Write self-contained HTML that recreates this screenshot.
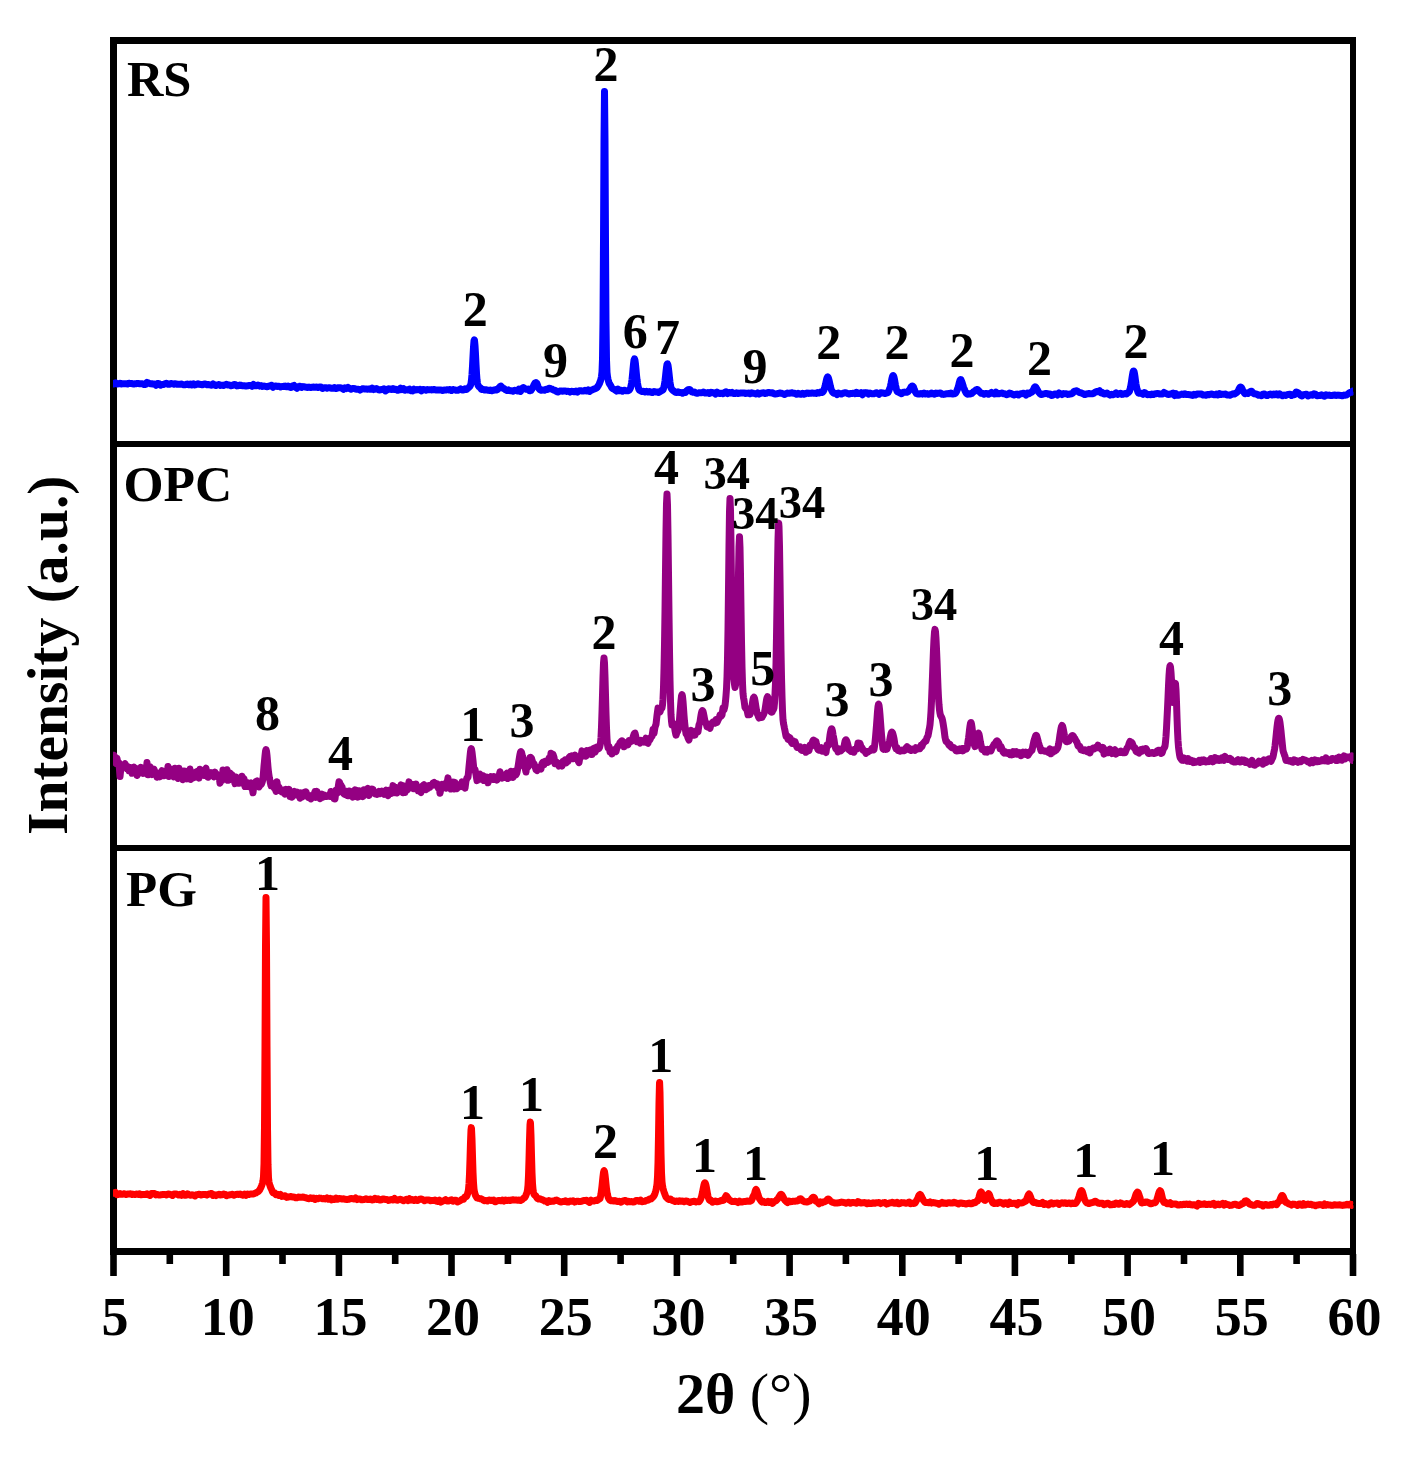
<!DOCTYPE html>
<html><head><meta charset="utf-8"><title>XRD patterns</title><style>html,body{margin:0;padding:0;background:#fff;overflow:hidden;}svg{display:block;}</style></head><body>
<svg width="1404" height="1462" viewBox="0 0 1404 1462">
<rect x="0" y="0" width="1404" height="1462" fill="#fff"/>
<g fill="#000">
<rect x="110" y="37" width="1246" height="7"/>
<rect x="110" y="1248" width="1246" height="7"/>
<rect x="110" y="37" width="7" height="1218"/>
<rect x="1350" y="37" width="6" height="1218"/>
<rect x="110" y="441" width="1246" height="6"/>
<rect x="110" y="845" width="1246" height="6"/>
<rect x="110.2" y="1254" width="6.6" height="22"/>
<rect x="166.5" y="1254" width="6.6" height="10"/>
<rect x="222.9" y="1254" width="6.6" height="22"/>
<rect x="279.2" y="1254" width="6.6" height="10"/>
<rect x="335.6" y="1254" width="6.6" height="22"/>
<rect x="391.9" y="1254" width="6.6" height="10"/>
<rect x="448.2" y="1254" width="6.6" height="22"/>
<rect x="504.6" y="1254" width="6.6" height="10"/>
<rect x="560.9" y="1254" width="6.6" height="22"/>
<rect x="617.3" y="1254" width="6.6" height="10"/>
<rect x="673.6" y="1254" width="6.6" height="22"/>
<rect x="729.9" y="1254" width="6.6" height="10"/>
<rect x="786.3" y="1254" width="6.6" height="22"/>
<rect x="842.6" y="1254" width="6.6" height="10"/>
<rect x="899.0" y="1254" width="6.6" height="22"/>
<rect x="955.3" y="1254" width="6.6" height="10"/>
<rect x="1011.6" y="1254" width="6.6" height="22"/>
<rect x="1068.0" y="1254" width="6.6" height="10"/>
<rect x="1124.3" y="1254" width="6.6" height="22"/>
<rect x="1180.7" y="1254" width="6.6" height="10"/>
<rect x="1237.0" y="1254" width="6.6" height="22"/>
<rect x="1293.3" y="1254" width="6.6" height="10"/>
<rect x="1349.7" y="1254" width="6.6" height="22"/>
</g>
<defs><clipPath id="cp"><rect x="113" y="0" width="1240.5" height="1462"/></clipPath></defs>
<g clip-path="url(#cp)">
<polyline points="113.0,383.9 113.5,383.9 114.0,383.7 114.5,383.4 115.0,383.1 115.5,382.8 116.0,383.2 116.5,383.6 117.0,384.0 117.5,384.0 118.0,383.9 118.5,383.8 119.0,383.6 119.5,383.5 120.0,383.3 120.5,383.5 121.0,383.7 121.5,383.9 122.0,383.9 122.5,383.8 123.0,383.8 123.5,383.8 124.0,383.8 124.5,383.8 125.0,383.7 125.5,383.7 126.0,383.7 126.5,383.8 127.0,383.9 127.5,384.0 128.0,383.7 128.5,383.5 129.0,383.3 129.5,383.4 130.0,383.5 130.5,383.6 131.0,383.6 131.5,383.5 132.0,383.5 132.5,383.7 133.0,383.9 133.5,384.1 134.0,384.0 134.5,383.9 135.0,383.8 135.5,383.7 136.0,383.7 136.5,383.6 137.0,383.5 137.5,383.4 138.0,383.4 138.5,383.5 139.0,383.6 139.5,383.7 140.0,383.7 140.5,383.8 141.0,383.8 141.5,383.8 142.0,383.7 142.5,383.7 143.0,384.0 143.5,384.3 144.0,384.6 144.5,384.5 145.0,384.5 145.5,384.4 146.0,383.7 146.5,383.1 147.0,382.4 147.5,382.6 148.0,382.7 148.5,382.9 149.0,383.2 149.5,383.5 150.0,383.8 150.5,383.8 151.0,383.7 151.5,383.7 152.0,383.8 152.5,384.0 153.0,384.1 153.5,384.1 154.0,384.1 154.5,384.1 155.0,384.4 155.5,384.8 156.0,385.2 156.5,384.6 157.0,384.0 157.5,383.4 158.0,383.5 158.5,383.7 159.0,383.8 159.5,384.3 160.0,384.7 160.5,385.2 161.0,384.9 161.5,384.7 162.0,384.4 162.5,384.4 163.0,384.4 163.5,384.4 164.0,384.2 164.5,384.0 165.0,383.8 165.5,383.6 166.0,383.4 166.5,383.2 167.0,383.5 167.5,383.9 168.0,384.2 168.5,384.2 169.0,384.2 169.5,384.2 170.0,384.0 170.5,383.7 171.0,383.5 171.5,383.6 172.0,383.7 172.5,383.8 173.0,383.9 173.5,384.0 174.0,384.2 174.5,384.0 175.0,383.8 175.5,383.7 176.0,383.9 176.5,384.0 177.0,384.2 177.5,384.2 178.0,384.3 178.5,384.3 179.0,384.3 179.5,384.3 180.0,384.3 180.5,384.2 181.0,384.1 181.5,384.0 182.0,384.2 182.5,384.4 183.0,384.6 183.5,384.7 184.0,384.7 184.5,384.8 185.0,384.7 185.5,384.6 186.0,384.5 186.5,384.3 187.0,384.1 187.5,383.9 188.0,384.2 188.5,384.5 189.0,384.8 189.5,384.6 190.0,384.3 190.5,384.1 191.0,384.4 191.5,384.6 192.0,384.9 192.5,384.5 193.0,384.2 193.5,383.8 194.0,384.2 194.5,384.6 195.0,384.9 195.5,384.8 196.0,384.6 196.5,384.4 197.0,384.2 197.5,384.0 198.0,383.8 198.5,384.0 199.0,384.1 199.5,384.3 200.0,384.4 200.5,384.5 201.0,384.5 201.5,384.6 202.0,384.7 202.5,384.7 203.0,384.5 203.5,384.3 204.0,384.0 204.5,384.0 205.0,384.0 205.5,384.0 206.0,384.3 206.5,384.5 207.0,384.8 207.5,384.7 208.0,384.5 208.5,384.4 209.0,384.6 209.5,384.7 210.0,384.9 210.5,385.0 211.0,385.1 211.5,385.2 212.0,384.8 212.5,384.3 213.0,383.9 213.5,384.3 214.0,384.6 214.5,385.0 215.0,385.2 215.5,385.4 216.0,385.5 216.5,385.3 217.0,385.0 217.5,384.7 218.0,384.7 218.5,384.6 219.0,384.5 219.5,384.8 220.0,385.1 220.5,385.4 221.0,385.3 221.5,385.2 222.0,385.2 222.5,385.3 223.0,385.4 223.5,385.5 224.0,385.3 224.5,385.1 225.0,384.9 225.5,384.7 226.0,384.5 226.5,384.3 227.0,384.6 227.5,384.8 228.0,385.1 228.5,385.0 229.0,385.0 229.5,384.9 230.0,385.2 230.5,385.4 231.0,385.7 231.5,385.6 232.0,385.5 232.5,385.4 233.0,385.0 233.5,384.7 234.0,384.4 234.5,384.5 235.0,384.6 235.5,384.7 236.0,385.1 236.5,385.5 237.0,385.9 237.5,385.8 238.0,385.8 238.5,385.8 239.0,385.5 239.5,385.3 240.0,385.1 240.5,385.2 241.0,385.3 241.5,385.5 242.0,385.6 242.5,385.7 243.0,385.8 243.5,385.8 244.0,385.8 244.5,385.8 245.0,385.9 245.5,386.0 246.0,386.1 246.5,386.0 247.0,385.9 247.5,385.8 248.0,385.7 248.5,385.6 249.0,385.6 249.5,385.6 250.0,385.6 250.5,385.5 251.0,385.8 251.5,386.0 252.0,386.3 252.5,385.7 253.0,385.1 253.5,384.5 254.0,384.9 254.5,385.3 255.0,385.7 255.5,385.8 256.0,385.8 256.5,385.8 257.0,385.6 257.5,385.3 258.0,385.1 258.5,385.4 259.0,385.7 259.5,386.1 260.0,385.9 260.5,385.7 261.0,385.6 261.5,385.9 262.0,386.1 262.5,386.4 263.0,386.3 263.5,386.1 264.0,385.9 264.5,386.1 265.0,386.2 265.5,386.4 266.0,386.5 266.5,386.6 267.0,386.7 267.5,386.6 268.0,386.5 268.5,386.3 269.0,386.1 269.5,385.9 270.0,385.7 270.5,385.6 271.0,385.4 271.5,385.3 272.0,386.0 272.5,386.6 273.0,387.2 273.5,386.8 274.0,386.5 274.5,386.2 275.0,386.1 275.5,386.0 276.0,385.9 276.5,386.1 277.0,386.2 277.5,386.4 278.0,386.3 278.5,386.3 279.0,386.2 279.5,386.4 280.0,386.7 280.5,386.9 281.0,386.7 281.5,386.6 282.0,386.4 282.5,386.4 283.0,386.5 283.5,386.5 284.0,386.3 284.5,386.2 285.0,386.1 285.5,386.3 286.0,386.6 286.5,386.8 287.0,386.5 287.5,386.3 288.0,386.0 288.5,386.4 289.0,386.7 289.5,387.0 290.0,387.2 290.5,387.4 291.0,387.5 291.5,387.0 292.0,386.4 292.5,385.9 293.0,385.7 293.5,385.6 294.0,385.4 294.5,386.0 295.0,386.6 295.5,387.2 296.0,387.6 296.5,387.9 297.0,388.3 297.5,387.7 298.0,387.0 298.5,386.4 299.0,386.4 299.5,386.3 300.0,386.3 300.5,386.7 301.0,387.0 301.5,387.4 302.0,387.1 302.5,386.9 303.0,386.6 303.5,386.7 304.0,386.8 304.5,386.9 305.0,386.9 305.5,387.0 306.0,387.0 306.5,387.2 307.0,387.4 307.5,387.5 308.0,387.4 308.5,387.2 309.0,387.1 309.5,387.2 310.0,387.4 310.5,387.5 311.0,387.4 311.5,387.4 312.0,387.3 312.5,387.2 313.0,387.1 313.5,387.0 314.0,387.1 314.5,387.2 315.0,387.3 315.5,387.2 316.0,387.1 316.5,387.0 317.0,387.2 317.5,387.4 318.0,387.6 318.5,387.4 319.0,387.2 319.5,387.0 320.0,387.0 320.5,387.1 321.0,387.1 321.5,387.6 322.0,388.1 322.5,388.5 323.0,388.3 323.5,388.0 324.0,387.8 324.5,387.8 325.0,387.8 325.5,387.8 326.0,387.9 326.5,388.1 327.0,388.2 327.5,388.0 328.0,387.9 328.5,387.7 329.0,387.8 329.5,387.8 330.0,387.9 330.5,388.0 331.0,388.1 331.5,388.3 332.0,388.3 332.5,388.3 333.0,388.2 333.5,388.0 334.0,387.7 334.5,387.5 335.0,387.9 335.5,388.3 336.0,388.6 336.5,388.4 337.0,388.2 337.5,387.9 338.0,387.8 338.5,387.8 339.0,387.7 339.5,387.8 340.0,387.8 340.5,387.8 341.0,388.0 341.5,388.1 342.0,388.2 342.5,388.6 343.0,388.9 343.5,389.3 344.0,388.8 344.5,388.3 345.0,387.8 345.5,388.1 346.0,388.4 346.5,388.6 347.0,388.2 347.5,387.8 348.0,387.4 348.5,387.8 349.0,388.2 349.5,388.6 350.0,388.8 350.5,389.0 351.0,389.2 351.5,389.0 352.0,388.8 352.5,388.6 353.0,388.6 353.5,388.5 354.0,388.4 354.5,388.6 355.0,388.8 355.5,389.0 356.0,389.1 356.5,389.2 357.0,389.3 357.5,389.3 358.0,389.3 358.5,389.3 359.0,389.6 359.5,389.8 360.0,390.1 360.5,389.8 361.0,389.4 361.5,389.1 362.0,389.0 362.5,388.8 363.0,388.7 363.5,388.8 364.0,388.9 364.5,389.0 365.0,389.0 365.5,389.0 366.0,389.0 366.5,389.1 367.0,389.1 367.5,389.2 368.0,389.1 368.5,389.1 369.0,389.1 369.5,389.1 370.0,389.2 370.5,389.2 371.0,388.9 371.5,388.6 372.0,388.2 372.5,388.7 373.0,389.2 373.5,389.6 374.0,389.4 374.5,389.1 375.0,388.9 375.5,388.8 376.0,388.7 376.5,388.6 377.0,388.9 377.5,389.3 378.0,389.6 378.5,389.7 379.0,389.9 379.5,390.0 380.0,389.9 380.5,389.7 381.0,389.6 381.5,389.5 382.0,389.5 382.5,389.4 383.0,389.2 383.5,389.0 384.0,388.8 384.5,389.5 385.0,390.2 385.5,390.9 386.0,390.6 386.5,390.2 387.0,389.9 387.5,389.5 388.0,389.1 388.5,388.8 389.0,388.9 389.5,388.9 390.0,389.0 390.5,389.2 391.0,389.3 391.5,389.5 392.0,389.2 392.5,388.9 393.0,388.6 393.5,388.9 394.0,389.3 394.5,389.6 395.0,389.5 395.5,389.4 396.0,389.3 396.5,389.6 397.0,389.9 397.5,390.2 398.0,390.2 398.5,390.1 399.0,390.1 399.5,389.4 400.0,388.8 400.5,388.1 401.0,388.6 401.5,389.1 402.0,389.6 402.5,389.3 403.0,389.0 403.5,388.7 404.0,389.2 404.5,389.7 405.0,390.3 405.5,390.1 406.0,389.9 406.5,389.8 407.0,389.8 407.5,389.9 408.0,390.0 408.5,389.7 409.0,389.4 409.5,389.1 410.0,389.7 410.5,390.2 411.0,390.7 411.5,390.8 412.0,390.8 412.5,390.9 413.0,390.3 413.5,389.7 414.0,389.2 414.5,389.5 415.0,389.7 415.5,390.0 416.0,389.8 416.5,389.6 417.0,389.4 417.5,389.6 418.0,389.7 418.5,389.8 419.0,389.6 419.5,389.4 420.0,389.2 420.5,389.7 421.0,390.3 421.5,390.9 422.0,390.4 422.5,389.9 423.0,389.4 423.5,389.5 424.0,389.6 424.5,389.8 425.0,389.9 425.5,390.1 426.0,390.2 426.5,390.0 427.0,389.8 427.5,389.6 428.0,389.7 428.5,389.8 429.0,389.8 429.5,389.8 430.0,389.7 430.5,389.7 431.0,389.8 431.5,389.9 432.0,389.9 432.5,389.8 433.0,389.6 433.5,389.4 434.0,389.5 434.5,389.7 435.0,389.8 435.5,389.9 436.0,389.9 436.5,389.9 437.0,389.9 437.5,389.9 438.0,389.9 438.5,390.0 439.0,390.1 439.5,390.1 440.0,390.1 440.5,390.0 441.0,389.9 441.5,390.1 442.0,390.3 442.5,390.5 443.0,390.3 443.5,390.2 444.0,390.0 444.5,390.0 445.0,390.0 445.5,390.1 446.0,390.0 446.5,389.9 447.0,389.8 447.5,389.8 448.0,389.8 448.5,389.9 449.0,389.7 449.5,389.6 450.0,389.5 450.5,389.8 451.0,390.1 451.5,390.5 452.0,390.1 452.5,389.8 453.0,389.5 453.5,389.6 454.0,389.7 454.5,389.7 455.0,389.9 455.5,390.1 456.0,390.3 456.5,390.3 457.0,390.3 457.5,390.3 458.0,390.2 458.5,390.0 459.0,389.8 459.5,389.5 460.0,389.2 460.5,388.9 461.0,389.3 461.5,389.7 462.0,390.1 462.5,390.0 463.0,390.0 463.5,389.9 464.0,389.5 464.5,389.1 465.0,388.7 465.5,389.0 466.0,389.3 466.5,389.5 467.0,389.1 467.5,388.6 468.0,388.1 468.5,387.7 469.0,387.3 469.5,386.7 470.0,386.2 470.5,385.2 471.0,383.4 471.5,379.8 472.0,374.2 472.5,366.1 473.0,356.4 473.5,347.1 474.0,341.0 474.3,339.9 474.5,340.4 475.0,345.5 475.5,354.2 476.0,364.2 476.5,373.1 477.0,379.7 477.5,383.3 478.0,385.2 478.5,386.1 479.0,386.7 479.5,387.1 480.0,387.4 480.5,388.1 481.0,388.7 481.5,389.4 482.0,389.4 482.5,389.4 483.0,389.3 483.5,389.6 484.0,389.8 484.5,390.0 485.0,390.0 485.5,389.9 486.0,389.8 486.5,389.9 487.0,390.0 487.5,390.1 488.0,390.2 488.5,390.3 489.0,390.4 489.5,390.2 490.0,390.1 490.5,389.9 491.0,390.2 491.5,390.5 492.0,390.8 492.5,390.6 493.0,390.4 493.5,390.1 494.0,390.1 494.5,390.0 495.0,389.8 495.5,389.9 496.0,390.0 496.5,390.0 497.0,389.8 497.5,389.5 498.0,389.1 498.5,388.5 499.0,387.8 499.5,387.1 500.0,386.6 500.5,386.2 500.8,386.1 501.0,386.1 501.5,386.6 502.0,387.3 502.5,388.1 503.0,388.2 503.5,388.4 504.0,388.4 504.5,388.9 505.0,389.4 505.5,389.7 506.0,390.0 506.5,390.3 507.0,390.6 507.5,390.4 508.0,390.2 508.5,389.9 509.0,390.2 509.5,390.5 510.0,390.8 510.5,390.8 511.0,390.8 511.5,390.7 512.0,390.9 512.5,391.1 513.0,391.3 513.5,391.0 514.0,390.6 514.5,390.3 515.0,390.4 515.5,390.4 516.0,390.4 516.5,390.6 517.0,390.7 517.5,390.9 518.0,390.3 518.5,389.7 519.0,389.1 519.5,389.9 520.0,390.7 520.5,391.4 521.0,390.4 521.5,389.4 522.0,388.4 522.5,388.1 523.0,387.8 523.5,387.6 523.8,387.8 524.0,387.9 524.5,388.3 525.0,388.8 525.5,389.0 526.0,389.2 526.5,389.3 527.0,389.3 527.5,389.2 528.0,389.1 528.5,389.7 529.0,390.2 529.5,390.7 530.0,390.7 530.5,390.6 531.0,390.4 531.5,389.7 532.0,388.9 532.5,387.9 533.0,387.0 533.5,385.9 534.0,384.8 534.5,383.9 535.0,383.1 535.5,382.8 535.7,382.7 536.0,382.6 536.5,382.9 537.0,383.6 537.5,385.0 538.0,386.4 538.5,387.7 539.0,388.6 539.5,389.3 540.0,389.8 540.5,390.1 541.0,390.2 541.5,390.2 542.0,390.1 542.5,390.0 543.0,389.9 543.5,390.0 544.0,390.1 544.5,390.2 545.0,389.9 545.5,389.6 546.0,389.3 546.5,389.3 547.0,389.4 547.5,389.4 548.0,389.0 548.5,388.6 549.0,388.2 549.5,388.2 549.7,388.2 550.0,388.3 550.5,388.6 551.0,388.7 551.5,388.9 552.0,389.1 552.5,389.5 553.0,389.8 553.5,390.1 554.0,390.2 554.5,390.2 555.0,390.2 555.5,390.6 556.0,391.0 556.5,391.4 557.0,391.6 557.5,391.9 558.0,392.1 558.5,391.8 559.0,391.4 559.5,391.1 560.0,391.0 560.5,391.0 561.0,390.9 561.5,391.0 562.0,391.1 562.5,391.2 563.0,391.1 563.5,391.1 564.0,391.0 564.5,391.0 565.0,391.0 565.5,390.9 566.0,391.1 566.5,391.2 567.0,391.4 567.5,391.3 568.0,391.2 568.5,391.2 569.0,391.5 569.5,391.8 570.0,392.1 570.5,391.8 571.0,391.6 571.5,391.3 572.0,391.4 572.5,391.4 573.0,391.5 573.5,391.6 574.0,391.7 574.5,391.8 575.0,391.6 575.5,391.4 576.0,391.1 576.5,391.4 577.0,391.7 577.5,392.1 578.0,391.7 578.5,391.3 579.0,390.9 579.5,390.8 580.0,390.8 580.5,390.8 581.0,390.8 581.5,390.9 582.0,391.0 582.5,391.0 583.0,391.0 583.5,391.0 584.0,390.8 584.5,390.5 585.0,390.2 585.5,390.5 586.0,390.7 586.5,390.9 587.0,390.6 587.5,390.2 588.0,389.9 588.5,390.4 589.0,390.9 589.5,391.4 590.0,391.0 590.5,390.7 591.0,390.3 591.5,390.1 592.0,389.9 592.5,389.7 593.0,389.5 593.5,389.3 594.0,389.0 594.5,388.9 595.0,388.8 595.5,388.6 596.0,388.3 596.5,388.0 597.0,387.6 597.5,386.9 598.0,386.1 598.5,385.3 599.0,384.4 599.5,383.4 600.0,382.1 600.5,380.7 601.0,378.9 601.5,376.5 602.0,371.9 602.5,359.0 603.0,321.0 603.5,241.0 604.0,140.2 604.5,91.4 605.0,140.3 605.5,241.3 606.0,321.7 606.5,359.6 607.0,372.3 607.5,376.6 608.0,379.2 608.5,381.3 609.0,382.9 609.5,383.9 610.0,384.6 610.5,385.2 611.0,386.3 611.5,387.2 612.0,388.1 612.5,388.4 613.0,388.7 613.5,388.9 614.0,389.3 614.5,389.6 615.0,389.9 615.5,390.3 616.0,390.6 616.5,391.0 617.0,390.4 617.5,389.8 618.0,389.2 618.5,389.8 619.0,390.3 619.5,390.8 620.0,390.6 620.5,390.4 621.0,390.2 621.5,390.6 622.0,390.9 622.5,391.2 623.0,390.9 623.5,390.6 624.0,390.2 624.5,390.3 625.0,390.5 625.5,390.6 626.0,390.7 626.5,390.7 627.0,390.8 627.5,390.7 628.0,390.7 628.5,390.6 629.0,390.2 629.5,389.7 630.0,389.0 630.5,387.8 631.0,386.0 631.5,383.3 632.0,379.6 632.5,374.8 633.0,369.4 633.5,364.2 634.0,360.3 634.5,358.9 635.0,360.4 635.5,364.3 636.0,369.6 636.5,375.0 637.0,379.6 637.5,383.1 638.0,386.0 638.5,388.1 639.0,389.6 639.5,390.2 640.0,390.6 640.5,390.8 641.0,391.1 641.5,391.3 642.0,391.6 642.5,391.5 643.0,391.4 643.5,391.2 644.0,391.5 644.5,391.8 645.0,392.0 645.5,391.8 646.0,391.5 646.5,391.2 647.0,391.5 647.5,391.8 648.0,392.1 648.5,392.0 649.0,391.8 649.5,391.6 650.0,391.8 650.5,392.1 651.0,392.3 651.5,392.4 652.0,392.4 652.5,392.5 653.0,392.2 653.5,391.9 654.0,391.5 654.5,391.7 655.0,391.8 655.5,391.9 656.0,391.9 656.5,391.9 657.0,391.9 657.5,392.0 658.0,392.2 658.5,392.4 659.0,392.2 659.5,392.0 660.0,391.9 660.5,391.4 661.0,390.9 661.5,390.4 662.0,390.4 662.5,390.2 663.0,389.8 663.5,388.6 664.0,386.8 664.5,384.2 665.0,380.7 665.5,376.4 666.0,371.7 666.5,367.3 667.0,364.4 667.4,363.7 667.5,363.7 668.0,365.3 668.5,368.8 669.0,373.2 669.5,377.9 670.0,382.2 670.5,385.7 671.0,387.7 671.5,388.8 672.0,389.4 672.5,390.0 673.0,390.4 673.5,390.7 674.0,391.2 674.5,391.6 675.0,392.0 675.5,392.2 676.0,392.4 676.5,392.6 677.0,392.3 677.5,392.1 678.0,391.8 678.5,392.1 679.0,392.3 679.5,392.6 680.0,392.5 680.5,392.5 681.0,392.4 681.5,392.7 682.0,392.9 682.5,393.2 683.0,392.9 683.5,392.6 684.0,392.3 684.5,392.4 685.0,392.4 685.5,392.4 686.0,391.8 686.5,391.1 687.0,390.4 687.5,390.1 688.0,389.8 688.5,389.6 689.0,389.4 689.3,389.4 689.5,389.5 690.0,389.7 690.5,390.2 691.0,390.9 691.5,391.5 692.0,391.9 692.5,392.1 693.0,392.3 693.5,392.3 694.0,392.2 694.5,392.1 695.0,392.5 695.5,392.8 696.0,393.1 696.5,393.1 697.0,393.2 697.5,393.2 698.0,393.1 698.5,392.9 699.0,392.8 699.5,392.7 700.0,392.7 700.5,392.7 701.0,392.7 701.5,392.8 702.0,392.8 702.5,392.5 703.0,392.2 703.5,392.0 704.0,392.3 704.5,392.7 705.0,393.0 705.5,393.0 706.0,393.0 706.5,393.1 707.0,392.9 707.5,392.7 708.0,392.5 708.5,392.8 709.0,393.1 709.5,393.4 710.0,393.0 710.5,392.6 711.0,392.2 711.5,392.4 712.0,392.5 712.5,392.7 713.0,392.7 713.5,392.7 714.0,392.7 714.5,393.2 715.0,393.6 715.5,394.1 716.0,393.4 716.5,392.8 717.0,392.1 717.5,392.5 718.0,392.9 718.5,393.3 719.0,393.4 719.5,393.4 720.0,393.5 720.5,393.4 721.0,393.3 721.5,393.2 722.0,393.4 722.5,393.5 723.0,393.7 723.5,393.3 724.0,392.9 724.5,392.5 725.0,392.2 725.5,392.0 726.0,391.8 726.5,392.3 727.0,392.9 727.5,393.5 728.0,393.1 728.5,392.7 729.0,392.4 729.5,392.5 730.0,392.7 730.5,392.9 731.0,392.7 731.5,392.6 732.0,392.4 732.5,392.8 733.0,393.2 733.5,393.6 734.0,393.6 734.5,393.6 735.0,393.5 735.5,393.3 736.0,393.0 736.5,392.7 737.0,393.0 737.5,393.3 738.0,393.6 738.5,393.4 739.0,393.3 739.5,393.2 740.0,393.1 740.5,393.1 741.0,393.0 741.5,393.1 742.0,393.1 742.5,393.1 743.0,393.1 743.5,393.0 744.0,393.0 744.5,393.1 745.0,393.3 745.5,393.5 746.0,393.4 746.5,393.3 747.0,393.3 747.5,393.2 748.0,393.1 748.5,392.9 749.0,393.2 749.5,393.4 750.0,393.7 750.5,393.4 751.0,393.1 751.5,392.8 752.0,393.0 752.5,393.1 753.0,393.3 753.5,393.3 754.0,393.4 754.5,393.4 755.0,393.6 755.5,393.8 756.0,394.0 756.5,393.6 757.0,393.2 757.5,392.9 758.0,393.3 758.5,393.7 759.0,394.1 759.5,393.8 760.0,393.5 760.5,393.3 761.0,393.2 761.5,393.1 762.0,393.1 762.5,393.0 763.0,392.9 763.5,392.8 764.0,393.0 764.5,393.3 765.0,393.5 765.5,393.4 766.0,393.3 766.5,393.2 767.0,393.0 767.5,392.8 768.0,392.6 768.5,392.6 769.0,392.6 769.5,392.6 770.0,392.7 770.5,392.8 771.0,392.9 771.5,392.9 772.0,392.9 772.5,392.8 773.0,393.2 773.5,393.5 774.0,393.8 774.5,393.9 775.0,393.9 775.5,394.0 776.0,393.9 776.5,393.8 777.0,393.7 777.5,393.6 778.0,393.5 778.5,393.4 779.0,393.3 779.5,393.1 780.0,393.0 780.5,393.1 781.0,393.2 781.5,393.3 782.0,393.4 782.5,393.6 783.0,393.7 783.5,394.0 784.0,394.2 784.5,394.4 785.0,394.2 785.5,394.0 786.0,393.7 786.5,393.5 787.0,393.3 787.5,393.1 788.0,393.2 788.5,393.2 789.0,393.3 789.5,393.2 790.0,393.1 790.5,393.0 791.0,392.9 791.5,392.9 792.0,392.8 792.5,392.9 793.0,393.1 793.5,393.2 794.0,393.2 794.5,393.3 795.0,393.4 795.5,393.7 796.0,394.0 796.5,394.3 797.0,394.0 797.5,393.6 798.0,393.3 798.5,393.5 799.0,393.8 799.5,394.0 800.0,394.1 800.5,394.2 801.0,394.2 801.5,393.9 802.0,393.6 802.5,393.3 803.0,393.6 803.5,393.9 804.0,394.2 804.5,394.0 805.0,393.8 805.5,393.7 806.0,393.5 806.5,393.2 807.0,393.0 807.5,393.2 808.0,393.3 808.5,393.4 809.0,393.4 809.5,393.3 810.0,393.3 810.5,393.2 811.0,393.2 811.5,393.1 812.0,393.1 812.5,393.1 813.0,393.1 813.5,393.2 814.0,393.2 814.5,393.3 815.0,393.3 815.5,393.3 816.0,393.4 816.5,393.1 817.0,392.9 817.5,392.6 818.0,392.7 818.5,392.9 819.0,393.0 819.5,392.7 820.0,392.4 820.5,392.0 821.0,392.2 821.5,392.4 822.0,392.5 822.5,392.3 823.0,391.8 823.5,391.1 824.0,390.0 824.5,388.4 825.0,386.5 825.5,384.4 826.0,382.0 826.5,379.8 827.0,378.0 827.5,377.0 827.7,376.9 828.0,377.1 828.5,378.3 829.0,380.1 829.5,382.3 830.0,384.6 830.5,386.8 831.0,388.6 831.5,390.0 832.0,391.1 832.5,392.0 833.0,392.5 833.5,392.9 834.0,393.2 834.5,393.2 835.0,393.2 835.5,393.2 836.0,393.6 836.5,394.0 837.0,394.5 837.5,394.0 838.0,393.6 838.5,393.1 839.0,393.4 839.5,393.6 840.0,393.8 840.5,393.9 841.0,393.9 841.5,394.0 842.0,393.7 842.5,393.5 843.0,393.2 843.5,393.1 844.0,393.0 844.5,392.9 845.0,392.8 845.5,392.8 846.0,392.7 846.5,393.0 847.0,393.2 847.5,393.5 848.0,393.6 848.5,393.8 849.0,394.0 849.5,393.9 850.0,393.7 850.5,393.6 851.0,393.5 851.5,393.5 852.0,393.5 852.5,393.4 853.0,393.3 853.5,393.2 854.0,393.4 854.5,393.6 855.0,393.7 855.5,393.3 856.0,392.8 856.5,392.3 857.0,392.7 857.5,393.1 858.0,393.6 858.5,393.5 859.0,393.5 859.5,393.5 860.0,393.2 860.5,393.0 861.0,392.7 861.5,393.4 862.0,394.0 862.5,394.7 863.0,394.0 863.5,393.4 864.0,392.7 864.5,392.8 865.0,392.8 865.5,392.9 866.0,392.9 866.5,392.8 867.0,392.8 867.5,393.2 868.0,393.7 868.5,394.1 869.0,393.7 869.5,393.3 870.0,393.0 870.5,393.3 871.0,393.5 871.5,393.8 872.0,393.8 872.5,393.8 873.0,393.8 873.5,393.7 874.0,393.7 874.5,393.6 875.0,393.3 875.5,393.0 876.0,392.7 876.5,392.8 877.0,393.0 877.5,393.1 878.0,393.5 878.5,393.9 879.0,394.3 879.5,393.8 880.0,393.2 880.5,392.7 881.0,392.7 881.5,392.8 882.0,392.9 882.5,393.0 883.0,393.0 883.5,393.1 884.0,393.3 884.5,393.4 885.0,393.5 885.5,393.4 886.0,393.2 886.5,393.0 887.0,392.9 887.5,392.8 888.0,392.5 888.5,391.6 889.0,390.5 889.5,389.0 890.0,387.7 890.5,385.8 891.0,383.5 891.5,380.8 892.0,378.3 892.5,376.4 893.0,375.5 893.1,375.5 893.5,375.9 894.0,377.3 894.5,379.6 895.0,382.3 895.5,385.2 896.0,387.6 896.5,389.7 897.0,391.3 897.5,391.8 898.0,392.0 898.5,391.9 899.0,392.3 899.5,392.7 900.0,392.9 900.5,393.2 901.0,393.5 901.5,393.8 902.0,393.4 902.5,392.9 903.0,392.4 903.5,392.3 904.0,392.2 904.5,392.1 905.0,392.2 905.5,392.3 906.0,392.3 906.5,392.3 907.0,392.3 907.5,392.1 908.0,391.7 908.5,391.1 909.0,390.4 909.5,389.7 910.0,388.9 910.5,388.1 911.0,387.1 911.5,386.4 912.0,386.1 912.5,386.1 913.0,386.5 913.5,387.1 914.0,388.5 914.5,389.8 915.0,391.1 915.5,392.1 916.0,392.9 916.5,393.6 917.0,393.8 917.5,393.9 918.0,393.9 918.5,393.9 919.0,394.0 919.5,394.0 920.0,393.8 920.5,393.7 921.0,393.5 921.5,393.7 922.0,393.9 922.5,394.1 923.0,393.7 923.5,393.4 924.0,393.1 924.5,393.4 925.0,393.7 925.5,394.0 926.0,393.9 926.5,393.7 927.0,393.6 927.5,393.8 928.0,394.0 928.5,394.3 929.0,394.1 929.5,394.0 930.0,393.9 930.5,393.6 931.0,393.3 931.5,393.1 932.0,393.3 932.5,393.5 933.0,393.7 933.5,393.9 934.0,394.1 934.5,394.3 935.0,393.9 935.5,393.5 936.0,393.1 936.5,393.2 937.0,393.3 937.5,393.4 938.0,393.3 938.5,393.3 939.0,393.3 939.5,393.1 940.0,393.0 940.5,392.9 941.0,393.3 941.5,393.8 942.0,394.2 942.5,394.3 943.0,394.3 943.5,394.4 944.0,394.3 944.5,394.2 945.0,394.1 945.5,394.0 946.0,393.9 946.5,393.8 947.0,393.7 947.5,393.7 948.0,393.6 948.5,393.6 949.0,393.7 949.5,393.7 950.0,393.5 950.5,393.3 951.0,393.1 951.5,393.4 952.0,393.7 952.5,393.9 953.0,393.9 953.5,393.9 954.0,393.8 954.5,393.7 955.0,393.5 955.5,393.2 956.0,392.5 956.5,391.6 957.0,390.4 957.5,389.2 958.0,387.8 958.5,386.0 959.0,383.9 959.5,381.9 960.0,380.2 960.5,379.5 960.8,379.6 961.0,379.8 961.5,381.0 962.0,382.3 962.5,383.9 963.0,385.7 963.5,387.2 964.0,388.5 964.5,389.4 965.0,390.8 965.5,391.9 966.0,392.8 966.5,393.4 967.0,393.8 967.5,394.2 968.0,394.1 968.5,394.0 969.0,393.8 969.5,393.8 970.0,393.9 970.5,393.9 971.0,393.8 971.5,393.6 972.0,393.4 972.5,392.9 973.0,392.4 973.5,391.8 974.0,391.5 974.5,391.2 975.0,390.7 975.5,390.3 976.0,389.9 976.5,389.6 977.0,389.5 977.4,389.6 977.5,389.6 978.0,390.0 978.5,390.5 979.0,391.0 979.5,391.7 980.0,392.2 980.5,392.8 981.0,393.2 981.5,393.3 982.0,393.3 982.5,393.3 983.0,393.6 983.5,394.0 984.0,394.2 984.5,394.0 985.0,393.8 985.5,393.6 986.0,393.6 986.5,393.5 987.0,393.4 987.5,393.7 988.0,394.0 988.5,394.3 989.0,394.0 989.5,393.7 990.0,393.4 990.5,393.0 991.0,392.7 991.5,392.4 992.0,392.7 992.5,393.0 993.0,393.3 993.5,393.5 994.0,393.7 994.5,394.0 995.0,393.4 995.5,392.8 996.0,392.2 996.5,392.7 997.0,393.2 997.5,393.7 998.0,393.7 998.5,393.7 999.0,393.8 999.5,393.6 1000.0,393.4 1000.5,393.2 1001.0,393.2 1001.5,393.1 1002.0,393.1 1002.5,393.3 1003.0,393.5 1003.5,393.7 1004.0,393.7 1004.5,393.7 1005.0,393.7 1005.5,394.0 1006.0,394.3 1006.5,394.7 1007.0,394.5 1007.5,394.3 1008.0,394.2 1008.5,393.8 1009.0,393.5 1009.5,393.1 1010.0,393.2 1010.5,393.4 1011.0,393.5 1011.5,393.8 1012.0,394.1 1012.5,394.4 1013.0,394.6 1013.5,394.8 1014.0,395.0 1014.5,394.7 1015.0,394.5 1015.5,394.2 1016.0,394.2 1016.5,394.2 1017.0,394.1 1017.5,394.4 1018.0,394.7 1018.5,395.0 1019.0,394.6 1019.5,394.3 1020.0,394.0 1020.5,393.9 1021.0,393.8 1021.5,393.8 1022.0,393.6 1022.5,393.4 1023.0,393.2 1023.5,393.3 1024.0,393.5 1024.5,393.6 1025.0,394.1 1025.5,394.6 1026.0,395.1 1026.5,394.4 1027.0,393.7 1027.5,393.1 1028.0,393.3 1028.5,393.5 1029.0,393.7 1029.5,393.3 1030.0,392.9 1030.5,392.4 1031.0,392.4 1031.5,392.2 1032.0,391.9 1032.5,391.2 1033.0,390.4 1033.5,389.6 1034.0,388.4 1034.5,387.4 1035.0,386.7 1035.3,386.8 1035.5,386.9 1036.0,387.5 1036.5,388.4 1037.0,389.3 1037.5,390.3 1038.0,391.2 1038.5,392.0 1039.0,392.6 1039.5,393.1 1040.0,393.7 1040.5,394.1 1041.0,394.5 1041.5,394.5 1042.0,394.4 1042.5,394.3 1043.0,394.1 1043.5,393.9 1044.0,393.7 1044.5,393.7 1045.0,393.6 1045.5,393.6 1046.0,393.6 1046.5,393.6 1047.0,393.5 1047.5,393.8 1048.0,394.0 1048.5,394.3 1049.0,394.1 1049.5,394.0 1050.0,393.9 1050.5,394.4 1051.0,395.0 1051.5,395.5 1052.0,395.4 1052.5,395.2 1053.0,395.1 1053.5,394.7 1054.0,394.3 1054.5,393.9 1055.0,393.9 1055.5,393.9 1056.0,393.9 1056.5,394.3 1057.0,394.6 1057.5,395.0 1058.0,394.4 1058.5,393.7 1059.0,393.0 1059.5,393.3 1060.0,393.6 1060.5,393.8 1061.0,394.1 1061.5,394.3 1062.0,394.6 1062.5,394.3 1063.0,393.9 1063.5,393.6 1064.0,393.7 1064.5,393.7 1065.0,393.8 1065.5,393.8 1066.0,393.8 1066.5,393.9 1067.0,394.0 1067.5,394.2 1068.0,394.4 1068.5,394.3 1069.0,394.2 1069.5,394.0 1070.0,394.0 1070.5,394.0 1071.0,393.9 1071.5,393.7 1072.0,393.5 1072.5,393.2 1073.0,392.7 1073.5,392.1 1074.0,391.5 1074.5,391.2 1075.0,391.1 1075.5,391.1 1075.6,391.0 1076.0,390.8 1076.5,390.8 1077.0,390.9 1077.5,391.2 1078.0,391.6 1078.5,391.9 1079.0,392.2 1079.5,392.5 1080.0,392.6 1080.5,392.8 1081.0,392.9 1081.5,393.0 1082.0,393.3 1082.5,393.5 1083.0,393.7 1083.5,394.0 1084.0,394.3 1084.5,394.6 1085.0,394.5 1085.5,394.3 1086.0,394.2 1086.5,394.0 1087.0,393.9 1087.5,393.8 1088.0,393.7 1088.5,393.6 1089.0,393.5 1089.5,393.6 1090.0,393.7 1090.5,393.8 1091.0,393.8 1091.5,393.8 1092.0,393.8 1092.5,393.7 1093.0,393.6 1093.5,393.4 1094.0,393.1 1094.5,392.7 1095.0,392.3 1095.5,392.1 1096.0,391.9 1096.5,391.6 1097.0,391.6 1097.5,391.6 1098.0,391.8 1098.5,391.3 1099.0,390.9 1099.5,390.7 1100.0,391.5 1100.5,392.2 1101.0,392.9 1101.5,392.9 1102.0,392.8 1102.5,392.6 1103.0,393.1 1103.5,393.7 1104.0,394.1 1104.5,394.0 1105.0,393.8 1105.5,393.7 1106.0,393.5 1106.5,393.2 1107.0,393.0 1107.5,393.4 1108.0,393.8 1108.5,394.2 1109.0,394.5 1109.5,394.8 1110.0,395.1 1110.5,394.8 1111.0,394.5 1111.5,394.2 1112.0,394.4 1112.5,394.6 1113.0,394.8 1113.5,394.6 1114.0,394.3 1114.5,394.1 1115.0,393.7 1115.5,393.3 1116.0,392.9 1116.5,393.4 1117.0,393.9 1117.5,394.4 1118.0,394.2 1118.5,394.0 1119.0,393.8 1119.5,393.6 1120.0,393.4 1120.5,393.2 1121.0,393.6 1121.5,394.0 1122.0,394.4 1122.5,394.3 1123.0,394.2 1123.5,394.0 1124.0,393.9 1124.5,393.7 1125.0,393.5 1125.5,393.7 1126.0,393.8 1126.5,394.0 1127.0,393.5 1127.5,393.1 1128.0,392.5 1128.5,392.4 1129.0,392.0 1129.5,391.3 1130.0,389.6 1130.5,387.4 1131.0,384.6 1131.5,381.5 1132.0,378.1 1132.5,374.8 1133.0,372.1 1133.5,370.9 1133.6,370.9 1134.0,371.4 1134.5,373.5 1135.0,376.8 1135.5,380.6 1136.0,384.0 1136.5,386.8 1137.0,389.0 1137.5,390.8 1138.0,392.2 1138.5,393.1 1139.0,393.2 1139.5,393.1 1140.0,392.9 1140.5,393.1 1141.0,393.3 1141.5,393.4 1142.0,393.8 1142.5,394.0 1143.0,394.3 1143.5,393.7 1144.0,393.1 1144.5,392.5 1145.0,392.8 1145.5,393.2 1146.0,393.5 1146.5,393.9 1147.0,394.3 1147.5,394.7 1148.0,394.6 1148.5,394.5 1149.0,394.4 1149.5,394.5 1150.0,394.6 1150.5,394.7 1151.0,394.5 1151.5,394.3 1152.0,394.1 1152.5,394.2 1153.0,394.4 1153.5,394.6 1154.0,394.3 1154.5,394.1 1155.0,393.9 1155.5,393.8 1156.0,393.7 1156.5,393.5 1157.0,393.5 1157.5,393.4 1158.0,393.4 1158.5,393.6 1159.0,393.8 1159.5,394.0 1160.0,394.0 1160.5,394.0 1161.0,394.0 1161.5,394.0 1162.0,394.0 1162.5,394.0 1163.0,393.5 1163.5,392.9 1164.0,392.4 1164.5,392.7 1165.0,393.0 1165.5,393.3 1166.0,393.5 1166.5,393.8 1167.0,394.1 1167.5,394.2 1168.0,394.4 1168.5,394.5 1169.0,394.4 1169.5,394.2 1170.0,394.1 1170.5,394.0 1171.0,394.0 1171.5,393.9 1172.0,393.6 1172.5,393.4 1173.0,393.1 1173.5,393.9 1174.0,394.7 1174.5,395.5 1175.0,394.9 1175.5,394.4 1176.0,393.8 1176.5,394.3 1177.0,394.8 1177.5,395.3 1178.0,395.3 1178.5,395.3 1179.0,395.3 1179.5,395.0 1180.0,394.8 1180.5,394.6 1181.0,394.4 1181.5,394.3 1182.0,394.1 1182.5,394.2 1183.0,394.4 1183.5,394.5 1184.0,394.3 1184.5,394.0 1185.0,393.8 1185.5,394.1 1186.0,394.3 1186.5,394.6 1187.0,394.5 1187.5,394.5 1188.0,394.4 1188.5,394.5 1189.0,394.6 1189.5,394.7 1190.0,394.8 1190.5,394.9 1191.0,395.0 1191.5,395.1 1192.0,395.3 1192.5,395.4 1193.0,395.0 1193.5,394.6 1194.0,394.2 1194.5,394.5 1195.0,394.8 1195.5,395.0 1196.0,394.7 1196.5,394.4 1197.0,394.0 1197.5,394.0 1198.0,394.0 1198.5,394.0 1199.0,394.0 1199.5,394.1 1200.0,394.1 1200.5,394.1 1201.0,394.0 1201.5,393.9 1202.0,394.3 1202.5,394.7 1203.0,395.0 1203.5,395.0 1204.0,395.0 1204.5,395.0 1205.0,395.1 1205.5,395.1 1206.0,395.2 1206.5,395.0 1207.0,394.7 1207.5,394.5 1208.0,394.6 1208.5,394.6 1209.0,394.7 1209.5,394.5 1210.0,394.4 1210.5,394.2 1211.0,394.1 1211.5,394.0 1212.0,393.9 1212.5,394.2 1213.0,394.5 1213.5,394.8 1214.0,394.8 1214.5,394.7 1215.0,394.7 1215.5,394.5 1216.0,394.2 1216.5,394.0 1217.0,394.3 1217.5,394.6 1218.0,394.9 1218.5,394.5 1219.0,394.1 1219.5,393.6 1220.0,393.9 1220.5,394.2 1221.0,394.5 1221.5,394.4 1222.0,394.3 1222.5,394.2 1223.0,394.3 1223.5,394.3 1224.0,394.3 1224.5,394.2 1225.0,394.1 1225.5,394.0 1226.0,394.4 1226.5,394.7 1227.0,395.1 1227.5,395.0 1228.0,395.0 1228.5,394.9 1229.0,395.0 1229.5,395.1 1230.0,395.2 1230.5,395.0 1231.0,394.8 1231.5,394.6 1232.0,394.3 1232.5,394.0 1233.0,393.7 1233.5,393.9 1234.0,394.0 1234.5,394.0 1235.0,393.7 1235.5,393.4 1236.0,392.9 1236.5,392.7 1237.0,392.3 1237.5,391.8 1238.0,391.0 1238.5,390.1 1239.0,389.1 1239.5,388.1 1240.0,387.3 1240.4,387.0 1240.5,387.0 1241.0,387.2 1241.5,387.7 1242.0,388.5 1242.5,389.7 1243.0,390.7 1243.5,391.7 1244.0,392.5 1244.5,393.2 1245.0,393.7 1245.5,393.6 1246.0,393.4 1246.5,393.1 1247.0,393.3 1247.5,393.4 1248.0,393.4 1248.5,393.1 1249.0,392.7 1249.5,392.3 1250.0,391.8 1250.5,391.4 1251.0,391.2 1251.5,391.3 1252.0,391.6 1252.5,392.1 1253.0,392.6 1253.5,393.2 1254.0,393.7 1254.5,393.8 1255.0,393.9 1255.5,393.9 1256.0,394.0 1256.5,394.1 1257.0,394.2 1257.5,394.5 1258.0,394.9 1258.5,395.2 1259.0,395.1 1259.5,395.0 1260.0,394.9 1260.5,395.2 1261.0,395.5 1261.5,395.7 1262.0,395.3 1262.5,394.8 1263.0,394.3 1263.5,394.2 1264.0,394.0 1264.5,393.9 1265.0,394.4 1265.5,394.9 1266.0,395.4 1266.5,395.4 1267.0,395.4 1267.5,395.4 1268.0,395.1 1268.5,394.8 1269.0,394.5 1269.5,394.4 1270.0,394.3 1270.5,394.1 1271.0,394.4 1271.5,394.7 1272.0,394.9 1272.5,394.6 1273.0,394.3 1273.5,394.0 1274.0,394.3 1274.5,394.5 1275.0,394.8 1275.5,394.4 1276.0,394.1 1276.5,393.8 1277.0,394.1 1277.5,394.5 1278.0,394.9 1278.5,394.5 1279.0,394.2 1279.5,393.8 1280.0,394.2 1280.5,394.5 1281.0,394.9 1281.5,395.2 1282.0,395.5 1282.5,395.8 1283.0,395.5 1283.5,395.2 1284.0,394.9 1284.5,395.1 1285.0,395.3 1285.5,395.4 1286.0,395.2 1286.5,394.9 1287.0,394.7 1287.5,394.6 1288.0,394.6 1288.5,394.5 1289.0,394.4 1289.5,394.3 1290.0,394.2 1290.5,394.6 1291.0,395.1 1291.5,395.5 1292.0,395.2 1292.5,394.9 1293.0,394.5 1293.5,394.7 1294.0,394.7 1294.5,394.7 1295.0,393.8 1295.5,393.0 1296.0,392.1 1296.5,392.1 1297.0,392.2 1297.5,392.4 1298.0,392.7 1298.5,393.1 1299.0,393.5 1299.5,394.1 1300.0,394.7 1300.5,395.2 1301.0,395.5 1301.5,395.7 1302.0,395.9 1302.5,395.5 1303.0,395.1 1303.5,394.7 1304.0,394.6 1304.5,394.6 1305.0,394.5 1305.5,394.4 1306.0,394.3 1306.5,394.2 1307.0,394.8 1307.5,395.3 1308.0,395.9 1308.5,395.7 1309.0,395.4 1309.5,395.1 1310.0,395.0 1310.5,394.9 1311.0,394.8 1311.5,395.0 1312.0,395.1 1312.5,395.2 1313.0,394.7 1313.5,394.3 1314.0,393.8 1314.5,394.0 1315.0,394.1 1315.5,394.3 1316.0,394.8 1316.5,395.3 1317.0,395.8 1317.5,395.7 1318.0,395.6 1318.5,395.5 1319.0,395.4 1319.5,395.4 1320.0,395.4 1320.5,395.2 1321.0,395.0 1321.5,394.7 1322.0,395.0 1322.5,395.3 1323.0,395.6 1323.5,395.9 1324.0,396.1 1324.5,396.3 1325.0,395.7 1325.5,395.2 1326.0,394.7 1326.5,394.9 1327.0,395.1 1327.5,395.3 1328.0,395.3 1328.5,395.2 1329.0,395.1 1329.5,395.3 1330.0,395.4 1330.5,395.6 1331.0,395.5 1331.5,395.4 1332.0,395.4 1332.5,395.4 1333.0,395.3 1333.5,395.3 1334.0,395.2 1334.5,395.0 1335.0,394.9 1335.5,395.1 1336.0,395.2 1336.5,395.4 1337.0,395.3 1337.5,395.2 1338.0,395.1 1338.5,395.2 1339.0,395.3 1339.5,395.3 1340.0,395.4 1340.5,395.4 1341.0,395.4 1341.5,395.5 1342.0,395.7 1342.5,395.8 1343.0,395.6 1343.5,395.4 1344.0,395.1 1344.5,395.2 1345.0,395.2 1345.5,395.0 1346.0,395.0 1346.5,395.0 1347.0,394.9 1347.5,394.4 1348.0,393.9 1348.5,393.4 1349.0,393.1 1349.5,392.8 1350.0,392.5 1350.5,392.4 1351.0,392.4 1351.5,392.3 1352.0,391.9 1352.5,391.1 1353.0,391.1" fill="none" stroke="#0000ff" stroke-width="7" stroke-linejoin="round" stroke-linecap="butt"/>
<polyline points="113.0,758.3 113.5,758.3 114.0,755.2 114.5,757.7 115.0,760.2 115.5,762.9 116.0,763.5 116.5,760.9 117.0,758.2 117.5,761.3 118.0,764.4 118.5,763.6 119.0,762.8 119.5,769.7 120.0,776.6 120.5,771.8 121.0,766.9 121.5,766.1 122.0,765.3 122.5,765.5 123.0,765.7 123.5,765.2 124.0,764.7 124.5,764.1 125.0,763.6 125.5,764.8 126.0,765.9 126.5,767.4 127.0,768.9 127.5,767.9 128.0,766.8 128.5,768.8 129.0,770.8 129.5,769.1 130.0,767.4 130.5,767.8 131.0,768.3 131.5,770.8 132.0,773.3 132.5,771.8 133.0,770.3 133.5,768.8 134.0,767.2 134.5,767.8 135.0,768.4 135.5,769.7 136.0,770.9 136.5,773.2 137.0,775.5 137.5,772.1 138.0,768.7 138.5,768.9 139.0,769.0 139.5,771.1 140.0,773.2 140.5,770.3 141.0,767.4 141.5,768.4 142.0,769.5 142.5,771.4 143.0,773.4 143.5,773.0 144.0,772.6 144.5,771.9 145.0,771.3 145.5,772.3 146.0,773.3 146.5,767.9 147.0,762.5 147.5,768.6 148.0,774.8 148.5,771.8 149.0,768.8 149.5,767.8 150.0,766.7 150.5,769.9 151.0,773.0 151.5,773.7 152.0,774.5 152.5,772.7 153.0,771.0 153.5,770.1 154.0,769.1 154.5,770.9 155.0,772.7 155.5,772.7 156.0,772.6 156.5,775.0 157.0,777.3 157.5,776.4 158.0,775.4 158.5,774.6 159.0,773.8 159.5,775.3 160.0,776.8 160.5,774.8 161.0,772.8 161.5,771.8 162.0,770.7 162.5,773.1 163.0,775.5 163.5,775.6 164.0,775.7 164.5,774.5 165.0,773.3 165.5,772.5 166.0,771.6 166.5,773.2 167.0,774.8 167.5,770.6 168.0,766.4 168.5,771.4 169.0,776.4 169.5,776.1 170.0,775.9 170.5,772.6 171.0,769.3 171.5,772.0 172.0,774.6 172.5,773.1 173.0,771.5 173.5,774.2 174.0,776.9 174.5,772.6 175.0,768.3 175.5,770.1 176.0,771.9 176.5,774.4 177.0,777.0 177.5,777.7 178.0,778.4 178.5,773.3 179.0,768.2 179.5,770.8 180.0,773.4 180.5,774.7 181.0,775.9 181.5,774.5 182.0,773.0 182.5,776.3 183.0,779.7 183.5,775.4 184.0,771.0 184.5,773.4 185.0,775.8 185.5,773.5 186.0,771.3 186.5,775.1 187.0,778.9 187.5,776.6 188.0,774.4 188.5,773.8 189.0,773.2 189.5,771.1 190.0,769.0 190.5,774.2 191.0,779.4 191.5,778.0 192.0,776.5 192.5,776.5 193.0,776.4 193.5,777.0 194.0,777.6 194.5,776.3 195.0,775.1 195.5,773.5 196.0,772.0 196.5,771.7 197.0,771.5 197.5,771.4 198.0,771.4 198.5,774.7 199.0,778.1 199.5,773.7 200.0,769.3 200.5,770.6 201.0,772.0 201.5,772.4 202.0,772.8 202.5,773.6 203.0,774.4 203.5,774.9 204.0,775.4 204.5,772.6 205.0,769.8 205.5,769.1 206.0,768.3 206.5,770.9 207.0,773.6 207.5,775.4 208.0,777.3 208.5,776.5 209.0,775.8 209.5,775.0 210.0,774.1 210.5,773.4 211.0,772.7 211.5,773.7 212.0,774.8 212.5,774.1 213.0,773.3 213.5,775.1 214.0,776.8 214.5,774.4 215.0,772.1 215.5,773.6 216.0,775.1 216.5,774.8 217.0,774.5 217.5,775.6 218.0,776.7 218.5,776.3 219.0,776.0 219.5,779.6 220.0,783.2 220.5,781.7 221.0,780.2 221.5,780.3 222.0,780.4 222.5,775.2 223.0,769.9 223.5,772.6 224.0,775.2 224.5,774.9 225.0,774.6 225.5,776.4 226.0,778.2 226.5,774.0 227.0,769.8 227.5,775.0 228.0,780.3 228.5,780.2 229.0,780.1 229.5,776.6 230.0,773.0 230.5,773.6 231.0,774.1 231.5,774.4 232.0,774.7 232.5,776.1 233.0,777.4 233.5,778.4 234.0,779.3 234.5,781.5 235.0,783.7 235.5,780.3 236.0,777.0 236.5,778.5 237.0,780.0 237.5,779.1 238.0,778.2 238.5,780.7 239.0,783.2 239.5,781.7 240.0,780.2 240.5,781.5 241.0,782.9 241.5,779.6 242.0,776.3 242.5,778.0 243.0,779.8 243.5,779.2 244.0,778.7 244.5,782.6 245.0,786.5 245.5,785.6 246.0,784.7 246.5,783.7 247.0,782.6 247.5,782.8 248.0,783.0 248.5,784.8 249.0,786.6 249.5,785.2 250.0,783.8 250.5,783.4 251.0,783.0 251.5,785.0 252.0,787.1 252.5,789.9 253.0,792.8 253.5,788.7 254.0,784.6 254.5,784.1 255.0,783.6 255.5,782.6 256.0,781.6 256.5,781.3 257.0,781.0 257.5,783.6 258.0,786.2 258.5,786.6 259.0,786.9 259.5,785.6 260.0,784.3 260.5,784.6 261.0,784.7 261.5,783.9 262.0,782.6 262.5,781.0 263.0,778.2 263.5,772.4 264.0,766.1 264.5,761.1 265.0,755.7 265.5,751.3 266.0,749.6 266.5,751.2 267.0,755.4 267.5,761.2 268.0,767.3 268.5,772.1 269.0,775.5 269.5,778.6 270.0,780.8 270.5,783.5 271.0,785.8 271.5,784.6 272.0,783.3 272.5,784.0 273.0,784.7 273.5,786.3 274.0,787.9 274.5,787.9 275.0,788.0 275.5,789.6 276.0,791.3 276.5,786.5 277.0,781.8 277.5,785.9 278.0,790.1 278.5,788.6 279.0,787.1 279.5,788.2 280.0,789.2 280.5,790.3 281.0,791.3 281.5,791.7 282.0,792.1 282.5,792.2 283.0,792.2 283.5,791.2 284.0,790.1 284.5,792.1 285.0,794.1 285.5,791.7 286.0,789.4 286.5,789.7 287.0,790.0 287.5,791.3 288.0,792.6 288.5,791.0 289.0,789.3 289.5,792.9 290.0,796.4 290.5,795.1 291.0,793.9 291.5,795.5 292.0,797.1 292.5,794.5 293.0,791.9 293.5,791.7 294.0,791.4 294.5,792.3 295.0,793.1 295.5,794.0 296.0,794.9 296.5,793.4 297.0,792.0 297.5,793.3 298.0,794.7 298.5,794.4 299.0,794.1 299.5,796.2 300.0,798.3 300.5,795.6 301.0,792.9 301.5,795.0 302.0,797.1 302.5,795.1 303.0,793.1 303.5,792.7 304.0,792.4 304.5,792.7 305.0,793.0 305.5,792.5 306.0,791.9 306.5,793.5 307.0,795.2 307.5,796.3 308.0,797.3 308.5,796.3 309.0,795.3 309.5,795.9 310.0,796.5 310.5,797.7 311.0,799.0 311.5,797.4 312.0,795.8 312.5,795.8 313.0,795.7 313.5,795.2 314.0,794.7 314.5,793.1 315.0,791.6 315.5,794.5 316.0,797.4 316.5,794.4 317.0,791.4 317.5,794.4 318.0,797.3 318.5,796.6 319.0,795.8 319.5,797.2 320.0,798.7 320.5,797.3 321.0,795.9 321.5,795.0 322.0,794.2 322.5,795.6 323.0,797.1 323.5,796.1 324.0,795.0 324.5,795.5 325.0,796.0 325.5,796.3 326.0,796.6 326.5,796.5 327.0,796.3 327.5,796.3 328.0,796.3 328.5,795.5 329.0,794.8 329.5,795.6 330.0,796.4 330.5,794.0 331.0,791.5 331.5,793.8 332.0,796.1 332.5,794.8 333.0,793.4 333.5,796.1 334.0,798.8 334.5,798.9 335.0,798.9 335.5,794.7 336.0,790.3 336.5,792.1 337.0,793.4 337.5,791.3 338.0,788.6 338.5,785.0 339.0,781.7 339.5,782.3 339.7,782.9 340.0,784.3 340.5,784.4 341.0,785.4 341.5,786.1 342.0,786.6 342.5,789.9 343.0,792.7 343.5,793.4 344.0,793.8 344.5,794.2 345.0,794.5 345.5,792.8 346.0,791.2 346.5,793.4 347.0,795.5 347.5,795.6 348.0,795.7 348.5,793.3 349.0,791.0 349.5,791.5 350.0,792.0 350.5,792.6 351.0,793.2 351.5,792.4 352.0,791.7 352.5,794.4 353.0,797.1 353.5,795.1 354.0,793.1 354.5,791.5 355.0,789.8 355.5,790.0 356.0,790.1 356.5,790.9 357.0,791.6 357.5,794.3 358.0,797.1 358.5,793.9 359.0,790.8 359.5,791.0 360.0,791.3 360.5,791.8 361.0,792.2 361.5,791.6 362.0,790.9 362.5,793.8 363.0,796.6 363.5,793.2 364.0,789.8 364.5,791.3 365.0,792.9 365.5,792.2 366.0,791.5 366.5,792.1 367.0,792.7 367.5,790.5 368.0,788.3 368.5,791.9 369.0,795.5 369.5,793.2 370.0,790.9 370.5,791.1 371.0,791.3 371.5,790.2 372.0,789.0 372.5,789.2 373.0,789.5 373.5,791.1 374.0,792.7 374.5,793.2 375.0,793.8 375.5,793.5 376.0,793.2 376.5,793.8 377.0,794.3 377.5,793.8 378.0,793.2 378.5,792.3 379.0,791.5 379.5,792.5 380.0,793.5 380.5,793.2 381.0,792.9 381.5,792.0 382.0,791.1 382.5,792.1 383.0,793.0 383.5,793.7 384.0,794.3 384.5,793.0 385.0,791.7 385.5,790.9 386.0,790.2 386.5,791.5 387.0,792.7 387.5,794.2 388.0,795.6 388.5,792.9 389.0,790.3 389.5,790.4 390.0,790.5 390.5,790.4 391.0,790.2 391.5,791.8 392.0,793.3 392.5,789.5 393.0,785.6 393.5,788.2 394.0,790.8 394.5,791.7 395.0,792.6 395.5,790.1 396.0,787.5 396.5,790.2 397.0,793.0 397.5,791.7 398.0,790.4 398.5,789.0 399.0,787.5 399.5,788.3 400.0,789.2 400.5,787.0 401.0,784.8 401.5,785.9 402.0,787.0 402.5,789.9 403.0,792.7 403.5,789.3 404.0,785.9 404.5,789.2 405.0,792.5 405.5,790.1 406.0,787.6 406.5,788.9 407.0,790.1 407.5,788.9 408.0,787.7 408.5,784.8 409.0,781.9 409.5,783.9 410.0,785.9 410.5,786.9 411.0,787.9 411.5,786.3 412.0,784.8 412.5,784.6 413.0,784.5 413.5,786.7 414.0,788.8 414.5,787.7 415.0,786.5 415.5,785.3 416.0,784.1 416.5,785.4 417.0,786.8 417.5,788.8 418.0,790.7 418.5,789.2 419.0,787.6 419.5,789.4 420.0,791.3 420.5,791.9 421.0,792.5 421.5,790.5 422.0,788.5 422.5,787.0 423.0,785.4 423.5,785.1 424.0,784.7 424.5,786.2 425.0,787.6 425.5,788.6 426.0,789.6 426.5,788.8 427.0,787.9 427.5,788.1 428.0,788.3 428.5,787.0 429.0,785.6 429.5,786.4 430.0,787.2 430.5,786.2 431.0,785.2 431.5,785.4 432.0,785.5 432.5,784.3 433.0,783.1 433.5,782.7 434.0,782.4 434.5,783.7 435.0,785.0 435.5,784.2 436.0,783.4 436.5,783.6 437.0,783.7 437.5,785.7 438.0,787.7 438.5,786.7 439.0,785.7 439.5,789.4 440.0,793.2 440.5,790.7 441.0,788.2 441.5,786.2 442.0,784.3 442.5,786.0 443.0,787.7 443.5,787.1 444.0,786.6 444.5,785.3 445.0,783.9 445.5,786.1 446.0,788.3 446.5,785.9 447.0,783.6 447.5,780.7 448.0,777.9 448.5,782.6 449.0,787.4 449.5,785.6 450.0,783.8 450.5,786.4 451.0,789.0 451.5,786.3 452.0,783.6 452.5,782.9 453.0,782.3 453.5,785.6 454.0,789.0 454.5,785.7 455.0,782.4 455.5,784.0 456.0,785.5 456.5,787.1 457.0,788.6 457.5,786.9 458.0,785.2 458.5,784.9 459.0,784.7 459.5,784.9 460.0,785.1 460.5,785.8 461.0,786.5 461.5,784.2 462.0,781.9 462.5,783.5 463.0,785.0 463.5,784.7 464.0,784.4 464.5,786.3 465.0,788.2 465.5,784.5 466.0,780.8 466.5,779.5 467.0,777.8 467.5,778.0 468.0,777.2 468.5,772.4 469.0,766.8 469.5,761.8 470.0,756.5 470.5,751.7 471.0,748.9 471.2,748.6 471.5,749.0 472.0,752.0 472.5,756.4 473.0,760.7 473.5,765.7 474.0,770.1 474.5,770.5 475.0,769.4 475.5,772.1 476.0,774.5 476.5,777.6 477.0,780.6 477.5,777.8 478.0,774.9 478.5,775.1 479.0,775.2 479.5,774.8 480.0,774.3 480.5,776.8 481.0,779.2 481.5,778.9 482.0,778.5 482.5,777.0 483.0,775.5 483.5,778.0 484.0,780.5 484.5,780.1 485.0,779.8 485.5,780.3 486.0,780.8 486.5,779.0 487.0,777.1 487.5,780.0 488.0,782.8 488.5,781.0 489.0,779.3 489.5,778.5 490.0,777.7 490.5,777.1 491.0,776.5 491.5,776.8 492.0,777.0 492.5,778.2 493.0,779.5 493.5,778.0 494.0,776.5 494.5,778.0 495.0,779.5 495.5,778.9 496.0,778.2 496.5,779.1 497.0,780.0 497.5,779.3 498.0,778.6 498.5,777.5 499.0,776.3 499.5,774.0 500.0,771.7 500.5,774.4 501.0,777.0 501.5,777.6 502.0,778.1 502.5,777.3 503.0,776.5 503.5,776.9 504.0,777.3 504.5,776.0 505.0,774.7 505.5,774.7 506.0,774.7 506.5,773.9 507.0,773.1 507.5,775.8 508.0,778.5 508.5,776.9 509.0,775.4 509.5,774.5 510.0,773.6 510.5,772.4 511.0,771.3 511.5,772.6 512.0,773.9 512.5,775.6 513.0,777.3 513.5,775.9 514.0,774.5 514.5,772.8 515.0,771.0 515.5,773.1 516.0,774.8 516.5,773.8 517.0,772.3 517.5,769.8 518.0,766.9 518.5,763.7 519.0,760.3 519.5,757.1 520.0,754.2 520.5,752.1 520.9,751.5 521.0,751.5 521.5,752.3 522.0,754.3 522.5,756.5 523.0,758.3 523.5,762.1 524.0,766.3 524.5,767.1 525.0,767.0 525.5,769.7 526.0,772.0 526.5,767.5 527.0,762.4 527.5,764.9 528.0,767.1 528.5,766.0 529.0,764.5 529.5,761.0 530.0,757.6 530.5,757.3 531.0,757.7 531.5,758.4 532.0,760.0 532.5,761.6 533.0,763.2 533.5,763.6 534.0,763.7 534.5,765.2 535.0,766.4 535.5,768.1 536.0,769.7 536.5,770.1 537.0,770.5 537.5,769.1 538.0,767.7 538.5,767.6 539.0,767.5 539.5,767.6 540.0,767.7 540.5,768.4 541.0,769.0 541.5,766.2 542.0,763.5 542.5,762.8 543.0,762.1 543.5,763.5 544.0,764.8 544.5,763.0 545.0,761.3 545.5,761.5 546.0,761.7 546.5,762.1 547.0,762.5 547.5,762.5 548.0,762.3 548.5,760.3 549.0,758.0 549.5,759.6 550.0,760.9 550.5,757.1 551.0,753.3 551.5,755.4 552.0,758.0 552.5,755.9 553.0,754.3 553.5,755.8 554.0,757.3 554.5,760.6 555.0,763.8 555.5,763.3 556.0,762.6 556.5,762.6 557.0,762.4 557.5,763.1 558.0,763.6 558.5,764.9 559.0,766.1 559.5,765.6 560.0,765.2 560.5,764.8 561.0,764.4 561.5,765.2 562.0,766.0 562.5,763.6 563.0,761.1 563.5,761.0 564.0,760.9 564.5,760.4 565.0,759.9 565.5,761.4 566.0,762.9 566.5,762.3 567.0,761.6 567.5,761.6 568.0,761.5 568.5,759.5 569.0,757.6 569.5,757.0 570.0,756.5 570.5,757.6 571.0,758.8 571.5,757.3 572.0,755.9 572.5,757.3 573.0,758.7 573.5,758.6 574.0,758.5 574.5,756.8 575.0,755.2 575.5,755.9 576.0,756.6 576.5,756.6 577.0,756.5 577.5,758.6 578.0,760.7 578.5,761.6 579.0,762.6 579.5,759.6 580.0,756.6 580.5,756.5 581.0,756.4 581.5,753.7 582.0,750.9 582.5,753.5 583.0,756.1 583.5,755.7 584.0,755.2 584.5,753.9 585.0,752.5 585.5,754.4 586.0,756.2 586.5,753.4 587.0,750.6 587.5,751.9 588.0,753.2 588.5,753.4 589.0,753.6 589.5,751.9 590.0,750.1 590.5,752.3 591.0,754.4 591.5,754.4 592.0,754.4 592.5,751.6 593.0,748.7 593.5,748.5 594.0,748.2 594.5,750.2 595.0,752.2 595.5,751.2 596.0,750.3 596.5,748.7 597.0,747.2 597.5,748.0 598.0,748.8 598.5,748.7 599.0,748.5 599.5,747.5 600.0,745.6 600.5,743.0 601.0,737.5 601.5,726.8 602.0,711.9 602.5,695.0 603.0,677.2 603.5,663.2 604.0,657.9 604.5,663.1 605.0,676.8 605.5,694.9 606.0,713.0 606.5,727.9 607.0,738.6 607.5,744.6 608.0,747.6 608.5,747.5 609.0,746.5 609.5,749.2 610.0,751.7 610.5,751.1 611.0,750.4 611.5,752.2 612.0,754.0 612.5,752.1 613.0,750.2 613.5,750.3 614.0,750.4 614.5,749.9 615.0,749.4 615.5,750.5 616.0,751.5 616.5,749.6 617.0,747.6 617.5,746.7 618.0,745.8 618.5,745.9 619.0,745.8 619.5,744.2 620.0,742.4 620.5,742.1 621.0,741.9 621.5,741.1 621.9,740.7 622.0,740.7 622.5,741.2 623.0,742.0 623.5,744.5 624.0,746.8 624.5,744.9 625.0,742.7 625.5,743.3 626.0,743.8 626.5,743.6 627.0,743.2 627.5,744.0 628.0,744.8 628.5,742.7 629.0,740.6 629.5,740.9 630.0,741.1 630.5,741.4 631.0,741.5 631.5,741.3 632.0,741.0 632.5,739.2 633.0,737.4 633.5,735.8 634.0,734.3 634.5,733.4 634.7,733.2 635.0,733.1 635.5,735.1 636.0,737.4 636.5,739.5 637.0,741.7 637.5,741.5 638.0,741.2 638.5,741.8 639.0,742.1 639.5,742.6 640.0,743.1 640.5,741.7 641.0,740.3 641.5,741.0 642.0,741.6 642.5,741.5 643.0,741.3 643.5,741.7 644.0,742.1 644.5,741.5 645.0,741.0 645.5,739.6 646.0,738.2 646.5,740.3 647.0,742.5 647.5,742.9 648.0,743.2 648.5,741.0 649.0,738.8 649.5,739.2 650.0,739.7 650.5,738.5 651.0,737.3 651.5,736.8 652.0,736.2 652.5,732.9 653.0,729.5 653.5,731.5 654.0,733.5 654.5,730.3 655.0,727.1 655.5,725.7 656.0,724.3 656.5,719.9 657.0,715.5 657.5,711.8 658.0,708.1 658.5,708.8 659.0,709.4 659.5,710.8 660.0,712.0 660.5,710.4 661.0,708.6 661.5,708.7 662.0,707.9 662.5,705.0 663.0,699.2 663.5,687.5 664.0,668.9 664.5,644.6 665.0,611.1 665.5,570.2 666.0,531.5 666.5,503.7 667.0,494.0 667.5,505.2 668.0,534.6 668.5,574.0 669.0,614.5 669.5,651.4 670.0,680.1 670.5,700.9 671.0,714.8 671.5,721.3 672.0,724.9 672.5,724.5 673.0,723.3 673.5,723.8 674.0,724.0 674.5,727.3 675.0,730.6 675.5,733.0 676.0,735.2 676.5,733.8 677.0,732.1 677.5,731.7 678.0,730.5 678.5,728.8 679.0,725.6 679.5,719.5 680.0,712.7 680.5,706.6 681.0,700.6 681.5,696.1 682.0,694.5 682.5,696.4 683.0,701.3 683.5,708.0 684.0,715.2 684.5,721.2 685.0,725.8 685.5,730.3 686.0,733.7 686.5,734.4 687.0,734.3 687.5,736.2 688.0,737.9 688.5,739.0 689.0,740.1 689.5,736.8 690.0,733.4 690.5,731.9 691.0,730.3 691.5,731.7 692.0,733.1 692.5,733.7 693.0,734.2 693.5,734.7 694.0,735.2 694.5,735.1 695.0,735.0 695.5,733.1 696.0,731.1 696.5,730.7 697.0,730.2 697.5,731.2 698.0,731.8 698.5,728.3 699.0,724.8 699.5,723.8 700.0,722.0 700.5,718.4 701.0,715.2 701.5,712.8 702.0,711.1 702.4,710.6 702.5,710.6 703.0,711.4 703.5,713.3 704.0,715.9 704.5,718.6 705.0,721.2 705.5,722.4 706.0,722.8 706.5,724.9 707.0,726.8 707.5,727.0 708.0,726.9 708.5,727.1 709.0,727.2 709.5,727.7 710.0,728.2 710.5,726.4 711.0,724.6 711.5,723.8 712.0,722.9 712.5,722.4 713.0,721.9 713.5,721.8 714.0,721.6 714.5,722.4 715.0,723.1 715.5,721.3 716.0,719.6 716.5,721.1 717.0,722.5 717.5,721.3 718.0,720.1 718.5,719.1 719.0,718.1 719.5,716.6 720.0,714.9 720.5,715.6 721.0,716.2 721.5,715.7 722.0,715.0 722.5,711.6 723.0,708.1 723.5,709.1 724.0,709.7 724.5,707.9 725.0,705.6 725.5,701.2 726.0,695.6 726.5,688.8 727.0,677.1 727.5,658.8 728.0,629.7 728.5,589.1 729.0,545.9 729.5,511.7 730.0,498.4 730.5,510.5 731.0,543.0 731.5,584.1 732.0,622.1 732.5,650.4 733.0,668.4 733.5,676.6 734.0,679.8 734.5,684.5 735.0,687.5 735.5,685.2 736.0,680.6 736.5,673.6 737.0,659.9 737.5,636.9 738.0,606.0 738.5,572.9 739.0,546.6 739.5,536.7 740.0,547.6 740.5,574.9 741.0,609.0 741.5,641.5 742.0,666.6 742.5,683.1 743.0,693.3 743.5,697.7 744.0,700.0 744.5,703.9 745.0,707.4 745.5,708.2 746.0,708.8 746.5,709.4 747.0,709.8 747.5,712.4 748.0,714.8 748.5,713.4 749.0,711.8 749.5,713.4 750.0,714.5 750.5,712.4 751.0,709.9 751.5,708.4 752.0,706.0 752.5,702.5 753.0,699.5 753.5,697.8 754.0,697.2 754.5,698.2 755.0,700.8 755.5,704.0 756.0,707.2 756.5,710.3 757.0,712.8 757.5,714.3 758.0,715.3 758.5,716.8 759.0,718.0 759.5,716.8 760.0,715.4 760.5,715.6 761.0,715.9 761.5,716.6 762.0,717.3 762.5,716.4 763.0,715.4 763.5,714.7 764.0,713.5 764.5,712.0 765.0,709.8 765.5,706.6 766.0,703.2 766.5,700.0 767.0,697.7 767.5,696.7 768.0,697.5 768.5,699.7 769.0,702.8 769.5,706.2 770.0,709.4 770.5,711.0 771.0,711.8 771.5,712.2 772.0,712.1 772.5,711.1 773.0,709.7 773.5,709.3 774.0,707.8 774.5,702.8 775.0,694.3 775.5,682.9 776.0,664.0 776.5,636.9 777.0,603.6 777.5,568.6 778.0,539.8 778.5,524.3 778.7,523.1 779.0,526.9 779.5,546.7 780.0,578.4 780.5,615.2 781.0,650.3 781.5,677.4 782.0,696.4 782.5,710.5 783.0,719.6 783.5,723.6 784.0,725.8 784.5,728.5 785.0,730.8 785.5,733.5 786.0,736.1 786.5,735.9 787.0,735.6 787.5,737.5 788.0,739.4 788.5,738.3 789.0,737.2 789.5,737.5 790.0,737.7 790.5,739.6 791.0,741.6 791.5,742.5 792.0,743.4 792.5,742.1 793.0,740.8 793.5,741.9 794.0,742.9 794.5,742.3 795.0,741.6 795.5,743.1 796.0,744.6 796.5,746.0 797.0,747.4 797.5,747.2 798.0,746.9 798.5,747.0 799.0,747.1 799.5,747.0 800.0,746.8 800.5,748.3 801.0,749.7 801.5,750.1 802.0,750.5 802.5,750.4 803.0,750.3 803.5,750.0 804.0,749.8 804.5,748.6 805.0,747.4 805.5,749.9 806.0,752.3 806.5,750.9 807.0,749.5 807.5,749.4 808.0,749.3 808.5,749.9 809.0,750.5 809.5,747.9 810.0,745.2 810.5,746.1 811.0,746.6 811.5,745.0 812.0,743.2 812.5,741.7 813.0,740.4 813.5,740.0 813.9,740.3 814.0,740.5 814.5,740.5 815.0,741.3 815.5,741.4 816.0,741.6 816.5,744.5 817.0,747.0 817.5,748.5 818.0,749.6 818.5,750.0 819.0,750.2 819.5,749.3 820.0,748.3 820.5,748.1 821.0,747.8 821.5,749.6 822.0,751.2 822.5,751.1 823.0,751.0 823.5,750.7 824.0,750.4 824.5,749.2 825.0,747.9 825.5,750.3 826.0,752.6 826.5,748.9 827.0,745.1 827.5,745.9 828.0,746.0 828.5,745.2 829.0,743.4 829.5,739.2 830.0,735.2 830.5,732.2 831.0,729.9 831.5,728.8 831.6,728.8 832.0,729.3 832.5,731.2 833.0,734.5 833.5,737.3 834.0,739.5 834.5,742.9 835.0,746.1 835.5,747.9 836.0,749.1 836.5,749.1 837.0,748.8 837.5,750.4 838.0,752.0 838.5,750.5 839.0,748.9 839.5,749.4 840.0,749.9 840.5,750.3 841.0,750.7 841.5,750.1 842.0,749.4 842.5,749.3 843.0,748.9 843.5,747.8 844.0,746.5 844.5,743.8 845.0,741.4 845.5,740.2 845.9,739.8 846.0,739.8 846.5,740.4 847.0,741.7 847.5,743.5 848.0,745.4 848.5,747.8 849.0,749.9 849.5,750.1 850.0,750.1 850.5,750.9 851.0,751.5 851.5,751.3 852.0,751.0 852.5,750.5 853.0,750.0 853.5,751.1 854.0,752.2 854.5,750.7 855.0,749.0 855.5,749.2 856.0,749.1 856.5,749.1 857.0,748.9 857.5,745.9 858.0,743.1 858.5,743.1 858.8,743.4 859.0,743.8 859.5,743.3 860.0,743.3 860.5,745.2 861.0,747.2 861.5,747.6 862.0,747.8 862.5,749.2 863.0,750.3 863.5,750.4 864.0,750.5 864.5,751.0 865.0,751.5 865.5,752.4 866.0,753.4 866.5,752.5 867.0,751.7 867.5,751.9 868.0,752.1 868.5,751.6 869.0,751.1 869.5,751.0 870.0,750.8 870.5,750.4 871.0,749.9 871.5,749.2 872.0,748.4 872.5,749.3 873.0,750.0 873.5,750.0 874.0,749.4 874.5,746.4 875.0,742.3 875.5,737.3 876.0,731.2 876.5,725.3 877.0,718.6 877.5,711.6 878.0,706.5 878.5,704.3 878.6,704.2 879.0,705.2 879.5,709.1 880.0,714.9 880.5,721.6 881.0,728.3 881.5,734.5 882.0,739.8 882.5,744.8 883.0,748.8 883.5,749.3 884.0,749.0 884.5,749.1 885.0,748.9 885.5,749.2 886.0,749.4 886.5,749.3 887.0,748.9 887.5,747.3 888.0,745.3 888.5,744.7 889.0,743.4 889.5,741.2 890.0,738.7 890.5,736.0 891.0,733.8 891.5,732.4 891.9,732.0 892.0,732.0 892.5,732.8 893.0,734.3 893.5,736.4 894.0,738.6 894.5,741.8 895.0,745.2 895.5,747.1 896.0,748.7 896.5,748.4 897.0,747.7 897.5,749.2 898.0,750.5 898.5,750.6 899.0,750.6 899.5,750.9 900.0,751.3 900.5,751.1 901.0,750.9 901.5,750.4 902.0,750.0 902.5,750.4 903.0,750.8 903.5,750.7 904.0,750.7 904.5,750.5 905.0,750.3 905.5,749.2 906.0,748.1 906.5,747.4 907.0,746.7 907.5,747.9 908.0,749.2 908.5,748.6 909.0,748.1 909.5,749.1 910.0,750.1 910.5,750.3 911.0,750.5 911.5,750.2 912.0,749.8 912.5,749.4 913.0,748.9 913.5,749.0 914.0,749.2 914.5,749.7 915.0,750.2 915.5,749.0 916.0,747.7 916.5,748.5 917.0,749.3 917.5,749.0 918.0,748.6 918.5,748.1 919.0,747.7 919.5,748.1 920.0,748.5 920.5,746.9 921.0,745.4 921.5,745.9 922.0,746.5 922.5,745.0 923.0,743.5 923.5,743.1 924.0,742.6 924.5,741.8 925.0,741.0 925.5,741.1 926.0,741.0 926.5,739.3 927.0,737.5 927.5,736.8 928.0,735.8 928.5,733.3 929.0,730.3 929.5,728.1 930.0,724.7 930.5,719.0 931.0,711.5 931.5,701.0 932.0,688.8 932.5,676.1 933.0,662.7 933.5,649.6 934.0,638.9 934.5,631.9 935.0,629.4 935.5,631.8 936.0,638.6 936.5,648.8 937.0,660.8 937.5,674.3 938.0,687.3 938.5,697.3 939.0,704.7 939.5,710.0 940.0,713.3 940.5,715.4 941.0,716.4 941.5,717.1 942.0,718.2 942.1,718.5 942.5,720.1 943.0,722.8 943.5,726.0 944.0,729.2 944.5,733.2 945.0,737.3 945.5,739.6 946.0,741.4 946.5,741.7 947.0,741.6 947.5,742.5 948.0,743.3 948.5,744.3 949.0,745.3 949.5,744.9 950.0,744.4 950.5,745.8 951.0,747.1 951.5,747.4 952.0,747.7 952.5,747.4 953.0,747.2 953.5,747.5 954.0,747.8 954.5,748.6 955.0,749.3 955.5,750.0 956.0,750.7 956.5,750.8 957.0,751.0 957.5,750.2 958.0,749.5 958.5,750.0 959.0,750.6 959.5,749.7 960.0,748.9 960.5,749.6 961.0,750.3 961.5,749.6 962.0,748.8 962.5,749.8 963.0,750.9 963.5,749.7 964.0,748.5 964.5,748.7 965.0,748.8 965.5,749.1 966.0,749.3 966.5,748.9 967.0,748.0 967.5,745.1 968.0,741.5 968.5,738.3 969.0,734.4 969.5,730.0 970.0,726.0 970.5,723.2 970.9,722.4 971.0,722.4 971.5,724.0 972.0,727.3 972.5,731.7 973.0,736.4 973.5,740.2 974.0,742.9 974.5,745.4 975.0,746.6 975.5,745.4 976.0,743.2 976.5,740.2 977.0,737.3 977.5,734.9 978.0,733.5 978.4,733.1 978.5,733.1 979.0,734.2 979.5,736.5 980.0,739.7 980.5,742.6 981.0,744.9 981.5,747.4 982.0,749.4 982.5,749.8 983.0,749.7 983.5,749.6 984.0,749.2 984.5,750.6 985.0,751.9 985.5,751.6 986.0,751.2 986.5,751.6 987.0,752.0 987.5,750.7 988.0,749.4 988.5,750.3 989.0,751.1 989.5,750.5 990.0,749.8 990.5,750.3 991.0,750.7 991.5,749.4 992.0,747.9 992.5,747.1 993.0,746.3 993.5,745.4 994.0,744.4 994.5,744.6 995.0,744.8 995.5,743.3 996.0,741.9 996.5,741.2 996.6,741.1 997.0,740.8 997.5,741.2 998.0,741.8 998.5,742.6 999.0,743.6 999.5,746.1 1000.0,748.5 1000.5,747.5 1001.0,746.4 1001.5,747.7 1002.0,749.0 1002.5,750.4 1003.0,751.7 1003.5,752.4 1004.0,753.0 1004.5,752.4 1005.0,751.7 1005.5,752.4 1006.0,753.1 1006.5,753.2 1007.0,753.2 1007.5,753.4 1008.0,753.6 1008.5,753.1 1009.0,752.6 1009.5,753.7 1010.0,754.7 1010.5,753.9 1011.0,753.1 1011.5,753.9 1012.0,754.8 1012.5,753.3 1013.0,751.7 1013.5,753.0 1014.0,754.3 1014.5,753.0 1015.0,751.8 1015.5,751.7 1016.0,751.6 1016.5,752.9 1017.0,754.1 1017.5,753.4 1018.0,752.6 1018.5,753.5 1019.0,754.3 1019.5,753.4 1020.0,752.6 1020.5,754.1 1021.0,755.7 1021.5,754.6 1022.0,753.6 1022.5,752.9 1023.0,752.2 1023.5,752.9 1024.0,753.6 1024.5,754.0 1025.0,754.3 1025.5,753.3 1026.0,752.2 1026.5,752.9 1027.0,753.6 1027.5,754.5 1028.0,755.3 1028.5,754.5 1029.0,753.7 1029.5,753.0 1030.0,752.3 1030.5,751.6 1031.0,750.8 1031.5,750.7 1032.0,750.2 1032.5,747.8 1033.0,745.3 1033.5,742.9 1034.0,740.6 1034.5,739.2 1035.0,737.5 1035.5,736.0 1036.0,735.2 1036.1,735.2 1036.5,735.5 1037.0,736.9 1037.5,738.8 1038.0,740.7 1038.5,742.7 1039.0,744.3 1039.5,745.9 1040.0,747.1 1040.5,749.0 1041.0,750.6 1041.5,750.4 1042.0,749.9 1042.5,750.2 1043.0,750.4 1043.5,750.7 1044.0,751.0 1044.5,751.1 1045.0,751.2 1045.5,751.1 1046.0,751.1 1046.5,751.1 1047.0,751.0 1047.5,751.7 1048.0,752.3 1048.5,752.6 1049.0,752.8 1049.5,750.8 1050.0,748.8 1050.5,751.3 1051.0,753.8 1051.5,752.4 1052.0,750.9 1052.5,751.5 1053.0,752.2 1053.5,751.0 1054.0,749.8 1054.5,750.3 1055.0,750.9 1055.5,750.6 1056.0,750.3 1056.5,749.7 1057.0,748.9 1057.5,748.2 1058.0,746.9 1058.5,744.6 1059.0,741.9 1059.5,738.2 1060.0,734.5 1060.5,731.5 1061.0,728.6 1061.5,726.5 1062.0,725.5 1062.5,726.0 1063.0,727.8 1063.5,730.3 1064.0,732.9 1064.5,735.6 1065.0,738.0 1065.5,739.9 1066.0,741.3 1066.5,741.7 1067.0,741.7 1067.5,741.5 1068.0,741.1 1068.5,741.2 1069.0,741.0 1069.5,739.7 1070.0,738.5 1070.5,737.8 1071.0,737.0 1071.5,736.2 1072.0,735.7 1072.5,735.5 1073.0,735.7 1073.5,736.4 1074.0,737.3 1074.5,738.1 1075.0,738.8 1075.5,739.8 1076.0,740.9 1076.5,741.6 1077.0,742.2 1077.5,743.9 1078.0,745.7 1078.5,746.4 1079.0,746.9 1079.5,746.9 1080.0,746.7 1080.5,748.3 1081.0,749.9 1081.5,749.9 1082.0,749.8 1082.5,750.2 1083.0,750.5 1083.5,750.6 1084.0,750.8 1084.5,750.3 1085.0,749.8 1085.5,750.0 1086.0,750.1 1086.5,750.8 1087.0,751.6 1087.5,751.2 1088.0,750.8 1088.5,750.2 1089.0,749.5 1089.5,751.2 1090.0,752.9 1090.5,751.4 1091.0,749.9 1091.5,749.5 1092.0,749.0 1092.5,748.6 1093.0,748.2 1093.5,748.6 1094.0,749.0 1094.5,748.7 1095.0,748.5 1095.5,747.7 1096.0,747.0 1096.4,747.2 1096.5,747.2 1097.0,747.6 1097.5,746.4 1098.0,745.2 1098.5,746.1 1099.0,747.0 1099.5,747.2 1100.0,747.4 1100.5,748.1 1101.0,748.8 1101.5,749.4 1102.0,750.0 1102.5,748.7 1103.0,747.5 1103.5,750.8 1104.0,754.1 1104.5,751.9 1105.0,749.7 1105.5,750.6 1106.0,751.5 1106.5,752.0 1107.0,752.4 1107.5,752.6 1108.0,752.8 1108.5,752.6 1109.0,752.4 1109.5,750.7 1110.0,749.0 1110.5,750.1 1111.0,751.2 1111.5,752.3 1112.0,753.5 1112.5,752.5 1113.0,751.5 1113.5,751.4 1114.0,751.3 1114.5,750.5 1115.0,749.8 1115.5,751.9 1116.0,754.1 1116.5,753.6 1117.0,753.2 1117.5,752.4 1118.0,751.6 1118.5,752.0 1119.0,752.5 1119.5,752.5 1120.0,752.5 1120.5,751.9 1121.0,751.3 1121.5,751.7 1122.0,752.2 1122.5,752.5 1123.0,752.7 1123.5,752.7 1124.0,752.7 1124.5,752.8 1125.0,752.8 1125.5,751.6 1126.0,750.2 1126.5,749.2 1127.0,748.0 1127.5,747.6 1128.0,747.1 1128.5,745.5 1129.0,743.8 1129.5,742.5 1130.0,741.4 1130.5,742.3 1130.9,743.3 1131.0,743.6 1131.5,743.0 1132.0,742.7 1132.5,743.9 1133.0,745.2 1133.5,746.5 1134.0,747.9 1134.5,747.8 1135.0,747.7 1135.5,749.6 1136.0,751.3 1136.5,751.8 1137.0,752.1 1137.5,752.2 1138.0,752.1 1138.5,752.6 1139.0,753.0 1139.5,752.3 1140.0,751.6 1140.5,750.7 1141.0,749.6 1141.5,750.4 1142.0,751.1 1142.5,750.2 1143.0,749.2 1143.5,749.6 1144.0,750.1 1144.5,749.4 1145.0,748.8 1145.5,748.5 1146.0,748.5 1146.5,749.4 1147.0,750.4 1147.5,751.8 1148.0,753.1 1148.5,753.4 1149.0,753.6 1149.5,753.4 1150.0,753.1 1150.5,753.2 1151.0,753.3 1151.5,752.9 1152.0,752.4 1152.5,752.5 1153.0,752.6 1153.5,753.0 1154.0,753.4 1154.5,753.0 1155.0,752.5 1155.5,752.7 1156.0,752.9 1156.5,752.0 1157.0,751.1 1157.5,750.8 1158.0,750.4 1158.5,750.3 1159.0,750.2 1159.5,750.8 1160.0,751.4 1160.5,752.5 1161.0,753.5 1161.5,753.3 1162.0,753.1 1162.5,751.7 1163.0,750.0 1163.5,749.1 1164.0,747.8 1164.5,747.5 1165.0,746.1 1165.5,742.0 1166.0,736.3 1166.5,728.2 1167.0,718.4 1167.5,708.6 1168.0,697.6 1168.5,686.0 1169.0,676.0 1169.5,669.0 1170.0,665.9 1170.1,665.8 1170.5,667.1 1171.0,672.3 1171.5,680.5 1172.0,689.8 1172.5,697.7 1173.0,702.4 1173.5,701.9 1174.0,697.0 1174.5,690.1 1175.0,684.3 1175.5,683.5 1176.0,689.9 1176.5,702.2 1177.0,717.4 1177.5,730.6 1178.0,740.4 1178.5,747.1 1179.0,751.0 1179.5,754.5 1180.0,757.1 1180.5,758.2 1181.0,759.0 1181.5,759.6 1182.0,760.2 1182.5,760.3 1183.0,760.4 1183.5,759.2 1184.0,757.9 1184.5,758.7 1185.0,759.4 1185.5,759.7 1186.0,760.0 1186.5,760.6 1187.0,761.1 1187.5,759.8 1188.0,758.6 1188.5,759.9 1189.0,761.2 1189.5,761.3 1190.0,761.5 1190.5,760.8 1191.0,760.1 1191.5,760.7 1192.0,761.3 1192.5,762.0 1193.0,762.6 1193.5,761.9 1194.0,761.2 1194.5,761.8 1195.0,762.4 1195.5,762.3 1196.0,762.3 1196.5,761.9 1197.0,761.5 1197.5,761.5 1198.0,761.5 1198.5,761.0 1199.0,760.5 1199.5,761.5 1200.0,762.4 1200.5,761.4 1201.0,760.3 1201.5,760.1 1202.0,760.0 1202.5,760.8 1203.0,761.6 1203.5,760.7 1204.0,759.9 1204.5,760.5 1205.0,761.2 1205.5,761.5 1206.0,761.9 1206.5,761.3 1207.0,760.7 1207.5,760.7 1208.0,760.6 1208.5,761.1 1209.0,761.6 1209.5,761.4 1210.0,761.3 1210.5,759.9 1211.0,758.5 1211.5,758.6 1212.0,758.7 1212.5,760.3 1213.0,761.8 1213.5,761.2 1214.0,760.7 1214.5,759.1 1215.0,757.6 1215.5,758.0 1216.0,758.4 1216.5,759.2 1217.0,760.0 1217.5,759.4 1218.0,758.8 1218.5,759.6 1219.0,760.4 1219.5,760.2 1220.0,759.9 1220.5,760.0 1221.0,760.2 1221.5,759.0 1222.0,757.8 1222.5,758.7 1223.0,759.4 1223.5,759.8 1224.0,760.3 1224.5,758.3 1225.0,756.3 1225.5,757.4 1225.6,757.7 1226.0,758.7 1226.5,758.8 1227.0,759.0 1227.5,759.2 1228.0,759.4 1228.5,759.4 1229.0,759.3 1229.5,758.9 1230.0,758.4 1230.5,758.8 1231.0,759.0 1231.5,760.1 1232.0,761.2 1232.5,761.4 1233.0,761.6 1233.5,761.8 1234.0,762.1 1234.5,762.0 1235.0,761.9 1235.5,761.9 1236.0,762.0 1236.5,761.2 1237.0,760.5 1237.5,760.1 1238.0,759.7 1238.5,760.6 1239.0,761.5 1239.5,761.8 1240.0,762.0 1240.5,761.9 1241.0,761.7 1241.5,760.8 1242.0,759.9 1242.5,760.6 1243.0,761.2 1243.5,760.7 1244.0,760.2 1244.5,761.3 1245.0,762.3 1245.5,761.6 1246.0,761.0 1246.5,761.6 1247.0,762.2 1247.5,762.5 1248.0,762.9 1248.5,762.9 1249.0,762.8 1249.5,763.6 1250.0,764.4 1250.5,763.0 1251.0,761.6 1251.5,761.0 1252.0,760.4 1252.5,762.4 1253.0,764.3 1253.5,764.7 1254.0,765.0 1254.5,765.1 1255.0,765.2 1255.5,764.4 1256.0,763.6 1256.5,763.7 1257.0,763.7 1257.5,763.4 1258.0,763.0 1258.5,762.1 1259.0,761.1 1259.5,761.5 1260.0,761.8 1260.5,762.4 1261.0,762.9 1261.5,762.2 1262.0,761.4 1262.5,762.8 1263.0,764.2 1263.5,762.0 1264.0,759.9 1264.5,760.4 1265.0,761.0 1265.5,761.8 1266.0,762.6 1266.5,761.4 1267.0,760.3 1267.5,759.8 1268.0,759.4 1268.5,759.1 1269.0,758.8 1269.5,759.0 1270.0,759.1 1270.5,760.3 1271.0,761.3 1271.5,760.2 1272.0,759.0 1272.5,758.1 1273.0,756.9 1273.5,754.5 1274.0,751.7 1274.5,749.4 1275.0,746.2 1275.5,741.7 1276.0,736.8 1276.5,731.8 1277.0,727.1 1277.5,723.1 1278.0,720.2 1278.5,718.5 1278.8,718.2 1279.0,718.3 1279.5,719.8 1280.0,722.7 1280.5,726.6 1281.0,731.0 1281.5,736.0 1282.0,740.9 1282.5,745.9 1283.0,750.4 1283.5,752.4 1284.0,753.5 1284.5,755.2 1285.0,756.3 1285.5,758.5 1286.0,760.4 1286.5,760.6 1287.0,760.6 1287.5,760.5 1288.0,760.4 1288.5,760.7 1289.0,761.0 1289.5,760.7 1290.0,760.5 1290.5,761.0 1291.0,761.6 1291.5,761.1 1292.0,760.6 1292.5,761.4 1293.0,762.1 1293.5,760.9 1294.0,759.8 1294.5,760.0 1295.0,760.3 1295.5,760.8 1296.0,761.4 1296.5,761.1 1297.0,760.8 1297.5,761.5 1298.0,762.2 1298.5,761.8 1299.0,761.4 1299.5,761.1 1300.0,760.7 1300.5,761.2 1301.0,761.6 1301.5,761.1 1302.0,760.6 1302.5,760.0 1303.0,759.4 1303.5,759.6 1304.0,759.8 1304.5,760.0 1305.0,760.2 1305.5,760.3 1306.0,760.5 1306.5,760.8 1307.0,761.1 1307.5,761.6 1308.0,762.0 1308.5,761.8 1309.0,761.5 1309.5,762.3 1310.0,763.0 1310.5,762.6 1311.0,762.3 1311.5,761.4 1312.0,760.5 1312.5,761.6 1313.0,762.6 1313.5,762.3 1314.0,762.0 1314.5,761.0 1315.0,760.0 1315.5,760.4 1316.0,760.8 1316.5,761.3 1317.0,761.7 1317.5,761.2 1318.0,760.6 1318.5,761.1 1319.0,761.5 1319.5,761.1 1320.0,760.7 1320.5,760.8 1321.0,761.0 1321.5,760.4 1322.0,759.7 1322.5,760.1 1323.0,760.5 1323.5,760.0 1324.0,759.5 1324.5,760.1 1325.0,760.7 1325.5,759.3 1326.0,757.8 1326.5,759.0 1327.0,760.2 1327.5,760.7 1328.0,761.2 1328.5,760.8 1329.0,760.3 1329.5,760.0 1330.0,759.6 1330.5,759.9 1331.0,760.2 1331.5,759.3 1332.0,758.4 1332.5,758.4 1333.0,758.4 1333.5,758.7 1334.0,758.9 1334.5,759.0 1335.0,759.1 1335.5,759.7 1336.0,760.4 1336.5,759.2 1337.0,758.1 1337.5,759.2 1338.0,760.3 1338.5,758.7 1339.0,757.1 1339.5,757.5 1340.0,758.0 1340.5,758.4 1341.0,758.8 1341.5,759.4 1342.0,760.1 1342.5,759.0 1343.0,757.9 1343.5,756.9 1344.0,755.9 1344.5,757.4 1345.0,758.9 1345.5,758.6 1346.0,758.3 1346.5,757.6 1347.0,756.9 1347.5,756.9 1348.0,756.9 1348.5,757.0 1349.0,757.2 1349.5,757.6 1350.0,758.0 1350.5,758.3 1351.0,758.6 1351.5,757.3 1352.0,755.9 1352.5,760.4 1353.0,760.4" fill="none" stroke="#940082" stroke-width="7" stroke-linejoin="round" stroke-linecap="butt"/>
<polyline points="113.0,1193.2 113.5,1193.2 114.0,1193.3 114.5,1193.0 115.0,1192.6 115.5,1192.3 116.0,1193.1 116.5,1193.9 117.0,1194.7 117.5,1194.6 118.0,1194.5 118.5,1194.4 119.0,1194.1 119.5,1193.9 120.0,1193.6 120.5,1193.9 121.0,1194.1 121.5,1194.3 122.0,1194.2 122.5,1194.2 123.0,1194.1 123.5,1194.0 124.0,1193.8 124.5,1193.7 125.0,1194.0 125.5,1194.3 126.0,1194.6 126.5,1194.4 127.0,1194.2 127.5,1194.0 128.0,1194.0 128.5,1194.0 129.0,1194.1 129.5,1194.0 130.0,1193.9 130.5,1193.8 131.0,1194.1 131.5,1194.3 132.0,1194.5 132.5,1194.4 133.0,1194.3 133.5,1194.2 134.0,1194.4 134.5,1194.5 135.0,1194.6 135.5,1194.4 136.0,1194.2 136.5,1194.0 137.0,1194.1 137.5,1194.3 138.0,1194.4 138.5,1194.2 139.0,1194.0 139.5,1193.8 140.0,1194.2 140.5,1194.5 141.0,1194.8 141.5,1194.7 142.0,1194.6 142.5,1194.5 143.0,1194.5 143.5,1194.5 144.0,1194.5 144.5,1194.6 145.0,1194.6 145.5,1194.6 146.0,1194.3 146.5,1194.1 147.0,1193.8 147.5,1194.2 148.0,1194.5 148.5,1194.8 149.0,1195.1 149.5,1195.3 150.0,1195.5 150.5,1194.9 151.0,1194.2 151.5,1193.5 152.0,1193.5 152.5,1193.5 153.0,1193.5 153.5,1193.5 154.0,1193.6 154.5,1193.6 155.0,1194.0 155.5,1194.5 156.0,1194.9 156.5,1194.8 157.0,1194.6 157.5,1194.5 158.0,1194.7 158.5,1194.9 159.0,1195.0 159.5,1195.0 160.0,1194.9 160.5,1194.9 161.0,1194.8 161.5,1194.7 162.0,1194.6 162.5,1194.6 163.0,1194.6 163.5,1194.6 164.0,1194.6 164.5,1194.5 165.0,1194.4 165.5,1194.6 166.0,1194.8 166.5,1195.0 167.0,1194.6 167.5,1194.2 168.0,1193.9 168.5,1194.0 169.0,1194.1 169.5,1194.3 170.0,1194.4 170.5,1194.5 171.0,1194.7 171.5,1194.9 172.0,1195.2 172.5,1195.5 173.0,1195.1 173.5,1194.6 174.0,1194.1 174.5,1194.1 175.0,1194.0 175.5,1194.0 176.0,1194.1 176.5,1194.1 177.0,1194.2 177.5,1194.5 178.0,1194.8 178.5,1195.1 179.0,1194.9 179.5,1194.7 180.0,1194.4 180.5,1194.7 181.0,1195.0 181.5,1195.3 182.0,1194.7 182.5,1194.1 183.0,1193.6 183.5,1194.1 184.0,1194.7 184.5,1195.2 185.0,1195.2 185.5,1195.2 186.0,1195.2 186.5,1194.7 187.0,1194.3 187.5,1193.8 188.0,1194.1 188.5,1194.4 189.0,1194.7 189.5,1194.9 190.0,1195.1 190.5,1195.3 191.0,1195.1 191.5,1194.9 192.0,1194.7 192.5,1194.9 193.0,1195.0 193.5,1195.2 194.0,1195.4 194.5,1195.7 195.0,1196.0 195.5,1195.6 196.0,1195.2 196.5,1194.8 197.0,1194.7 197.5,1194.6 198.0,1194.5 198.5,1194.4 199.0,1194.3 199.5,1194.2 200.0,1194.5 200.5,1194.8 201.0,1195.0 201.5,1194.9 202.0,1194.7 202.5,1194.6 203.0,1194.6 203.5,1194.6 204.0,1194.6 204.5,1194.6 205.0,1194.6 205.5,1194.6 206.0,1194.8 206.5,1194.9 207.0,1195.1 207.5,1194.7 208.0,1194.4 208.5,1194.1 209.0,1194.0 209.5,1194.0 210.0,1193.9 210.5,1193.7 211.0,1193.5 211.5,1193.4 212.0,1194.0 212.5,1194.7 213.0,1195.4 213.5,1195.2 214.0,1195.0 214.5,1194.8 215.0,1195.0 215.5,1195.3 216.0,1195.6 216.5,1195.3 217.0,1195.0 217.5,1194.7 218.0,1194.6 218.5,1194.5 219.0,1194.3 219.5,1194.5 220.0,1194.8 220.5,1195.0 221.0,1194.9 221.5,1194.8 222.0,1194.7 222.5,1194.5 223.0,1194.3 223.5,1194.0 224.0,1194.1 224.5,1194.2 225.0,1194.2 225.5,1194.7 226.0,1195.2 226.5,1195.7 227.0,1195.4 227.5,1195.2 228.0,1194.9 228.5,1194.9 229.0,1194.9 229.5,1194.9 230.0,1194.8 230.5,1194.7 231.0,1194.6 231.5,1194.5 232.0,1194.4 232.5,1194.3 233.0,1194.6 233.5,1194.9 234.0,1195.2 234.5,1195.0 235.0,1194.8 235.5,1194.6 236.0,1194.5 236.5,1194.4 237.0,1194.2 237.5,1194.3 238.0,1194.4 238.5,1194.5 239.0,1194.4 239.5,1194.2 240.0,1194.1 240.5,1194.3 241.0,1194.5 241.5,1194.7 242.0,1194.8 242.5,1195.0 243.0,1195.2 243.5,1194.8 244.0,1194.4 244.5,1194.1 245.0,1194.5 245.5,1194.9 246.0,1195.3 246.5,1194.9 247.0,1194.5 247.5,1194.1 248.0,1194.3 248.5,1194.4 249.0,1194.5 249.5,1194.3 250.0,1194.1 250.5,1193.9 251.0,1193.9 251.5,1194.0 252.0,1194.0 252.5,1194.0 253.0,1194.0 253.5,1193.9 254.0,1193.8 254.5,1193.5 255.0,1193.3 255.5,1193.1 256.0,1192.9 256.5,1192.6 257.0,1192.3 257.5,1192.1 258.0,1191.7 258.5,1191.3 259.0,1190.8 259.5,1190.1 260.0,1189.3 260.5,1188.3 261.0,1187.2 261.5,1186.1 262.0,1184.8 262.5,1183.2 263.0,1180.8 263.5,1176.5 264.0,1163.8 264.5,1126.1 265.0,1046.3 265.5,946.0 266.0,897.4 266.5,946.0 267.0,1046.4 267.5,1126.5 268.0,1164.7 268.5,1177.9 269.0,1182.0 269.5,1184.2 270.0,1185.8 270.5,1187.2 271.0,1188.4 271.5,1189.3 272.0,1190.6 272.5,1191.8 273.0,1192.9 273.5,1192.9 274.0,1192.8 274.5,1192.7 275.0,1193.4 275.5,1194.1 276.0,1194.7 276.5,1194.6 277.0,1194.4 277.5,1194.3 278.0,1194.7 278.5,1195.1 279.0,1195.5 279.5,1195.2 280.0,1194.9 280.5,1194.5 281.0,1195.2 281.5,1195.8 282.0,1196.4 282.5,1196.3 283.0,1196.2 283.5,1196.0 284.0,1196.0 284.5,1195.9 285.0,1195.8 285.5,1196.3 286.0,1196.9 286.5,1197.4 287.0,1197.3 287.5,1197.2 288.0,1197.1 288.5,1197.0 289.0,1196.9 289.5,1196.8 290.0,1196.7 290.5,1196.6 291.0,1196.5 291.5,1196.7 292.0,1196.9 292.5,1197.0 293.0,1197.0 293.5,1197.0 294.0,1197.1 294.5,1197.3 295.0,1197.5 295.5,1197.7 296.0,1197.7 296.5,1197.7 297.0,1197.8 297.5,1197.6 298.0,1197.3 298.5,1197.1 299.0,1197.1 299.5,1197.2 300.0,1197.2 300.5,1197.3 301.0,1197.3 301.5,1197.3 302.0,1197.2 302.5,1197.1 303.0,1197.0 303.5,1197.2 304.0,1197.3 304.5,1197.5 305.0,1197.6 305.5,1197.7 306.0,1197.8 306.5,1198.0 307.0,1198.2 307.5,1198.4 308.0,1198.5 308.5,1198.6 309.0,1198.8 309.5,1198.4 310.0,1198.1 310.5,1197.7 311.0,1198.0 311.5,1198.3 312.0,1198.5 312.5,1198.4 313.0,1198.2 313.5,1198.1 314.0,1198.6 314.5,1199.0 315.0,1199.5 315.5,1199.2 316.0,1198.8 316.5,1198.4 317.0,1198.6 317.5,1198.7 318.0,1198.8 318.5,1198.6 319.0,1198.3 319.5,1198.1 320.0,1198.2 320.5,1198.2 321.0,1198.3 321.5,1198.4 322.0,1198.6 322.5,1198.8 323.0,1198.7 323.5,1198.6 324.0,1198.5 324.5,1198.7 325.0,1198.8 325.5,1199.0 326.0,1198.6 326.5,1198.3 327.0,1197.9 327.5,1198.3 328.0,1198.8 328.5,1199.2 329.0,1198.9 329.5,1198.6 330.0,1198.3 330.5,1198.8 331.0,1199.3 331.5,1199.8 332.0,1199.4 332.5,1199.1 333.0,1198.7 333.5,1199.0 334.0,1199.2 334.5,1199.5 335.0,1199.0 335.5,1198.6 336.0,1198.1 336.5,1198.5 337.0,1198.8 337.5,1199.2 338.0,1198.9 338.5,1198.7 339.0,1198.5 339.5,1198.5 340.0,1198.6 340.5,1198.7 341.0,1198.8 341.5,1198.9 342.0,1199.0 342.5,1199.0 343.0,1198.9 343.5,1198.8 344.0,1199.0 344.5,1199.1 345.0,1199.2 345.5,1199.3 346.0,1199.4 346.5,1199.5 347.0,1199.5 347.5,1199.4 348.0,1199.4 348.5,1199.3 349.0,1199.2 349.5,1199.0 350.0,1198.8 350.5,1198.6 351.0,1198.4 351.5,1198.5 352.0,1198.6 352.5,1198.7 353.0,1198.8 353.5,1198.9 354.0,1199.0 354.5,1198.7 355.0,1198.4 355.5,1198.0 356.0,1198.5 356.5,1199.1 357.0,1199.6 357.5,1199.4 358.0,1199.3 358.5,1199.1 359.0,1199.1 359.5,1199.1 360.0,1199.1 360.5,1199.3 361.0,1199.5 361.5,1199.8 362.0,1199.7 362.5,1199.7 363.0,1199.6 363.5,1199.6 364.0,1199.5 364.5,1199.4 365.0,1199.2 365.5,1199.0 366.0,1198.8 366.5,1199.0 367.0,1199.3 367.5,1199.5 368.0,1199.5 368.5,1199.5 369.0,1199.5 369.5,1199.3 370.0,1199.1 370.5,1198.9 371.0,1199.2 371.5,1199.6 372.0,1200.0 372.5,1199.9 373.0,1199.8 373.5,1199.7 374.0,1199.2 374.5,1198.8 375.0,1198.3 375.5,1198.7 376.0,1199.1 376.5,1199.5 377.0,1199.3 377.5,1199.0 378.0,1198.8 378.5,1199.2 379.0,1199.7 379.5,1200.1 380.0,1200.0 380.5,1200.0 381.0,1199.9 381.5,1199.6 382.0,1199.2 382.5,1198.9 383.0,1199.0 383.5,1199.0 384.0,1199.0 384.5,1199.2 385.0,1199.4 385.5,1199.6 386.0,1199.5 386.5,1199.5 387.0,1199.4 387.5,1199.8 388.0,1200.1 388.5,1200.4 389.0,1200.3 389.5,1200.1 390.0,1200.0 390.5,1199.8 391.0,1199.6 391.5,1199.5 392.0,1199.6 392.5,1199.8 393.0,1200.0 393.5,1199.5 394.0,1199.0 394.5,1198.5 395.0,1199.0 395.5,1199.4 396.0,1199.8 396.5,1200.0 397.0,1200.1 397.5,1200.2 398.0,1200.0 398.5,1199.8 399.0,1199.6 399.5,1199.5 400.0,1199.4 400.5,1199.3 401.0,1199.6 401.5,1199.8 402.0,1200.1 402.5,1200.3 403.0,1200.6 403.5,1200.8 404.0,1200.5 404.5,1200.2 405.0,1199.9 405.5,1199.7 406.0,1199.4 406.5,1199.2 407.0,1199.7 407.5,1200.1 408.0,1200.6 408.5,1200.0 409.0,1199.4 409.5,1198.8 410.0,1199.2 410.5,1199.7 411.0,1200.1 411.5,1199.9 412.0,1199.7 412.5,1199.5 413.0,1199.8 413.5,1200.1 414.0,1200.4 414.5,1200.1 415.0,1199.7 415.5,1199.4 416.0,1199.8 416.5,1200.2 417.0,1200.6 417.5,1200.5 418.0,1200.3 418.5,1200.1 419.0,1199.7 419.5,1199.4 420.0,1199.0 420.5,1199.0 421.0,1198.9 421.5,1198.9 422.0,1199.2 422.5,1199.5 423.0,1199.8 423.5,1200.1 424.0,1200.4 424.5,1200.7 425.0,1200.5 425.5,1200.3 426.0,1200.1 426.5,1200.1 427.0,1200.1 427.5,1200.1 428.0,1200.1 428.5,1200.1 429.0,1200.1 429.5,1200.3 430.0,1200.5 430.5,1200.7 431.0,1200.6 431.5,1200.6 432.0,1200.6 432.5,1200.6 433.0,1200.6 433.5,1200.6 434.0,1200.4 434.5,1200.2 435.0,1200.0 435.5,1200.4 436.0,1200.9 436.5,1201.3 437.0,1201.3 437.5,1201.4 438.0,1201.5 438.5,1201.0 439.0,1200.5 439.5,1200.1 440.0,1200.8 440.5,1201.4 441.0,1202.1 441.5,1201.8 442.0,1201.5 442.5,1201.2 443.0,1201.0 443.5,1200.8 444.0,1200.5 444.5,1200.3 445.0,1200.0 445.5,1199.7 446.0,1200.2 446.5,1200.7 447.0,1201.1 447.5,1201.1 448.0,1201.1 448.5,1201.0 449.0,1200.8 449.5,1200.6 450.0,1200.4 450.5,1200.1 451.0,1199.9 451.5,1199.7 452.0,1200.2 452.5,1200.7 453.0,1201.2 453.5,1200.9 454.0,1200.5 454.5,1200.2 455.0,1200.2 455.5,1200.2 456.0,1200.2 456.5,1200.7 457.0,1201.3 457.5,1201.9 458.0,1201.7 458.5,1201.5 459.0,1201.3 459.5,1201.0 460.0,1200.7 460.5,1200.4 461.0,1200.1 461.5,1199.7 462.0,1199.3 462.5,1199.3 463.0,1199.4 463.5,1199.3 464.0,1198.5 464.5,1197.7 465.0,1196.8 465.5,1196.8 466.0,1196.7 466.5,1196.4 467.0,1195.4 467.5,1194.1 468.0,1192.3 468.5,1189.3 469.0,1183.8 469.5,1174.1 470.0,1159.3 470.5,1142.3 471.0,1129.9 471.3,1127.6 471.5,1128.6 472.0,1139.3 472.5,1156.3 473.0,1172.0 473.5,1182.9 474.0,1189.0 474.5,1192.2 475.0,1194.1 475.5,1195.4 476.0,1196.4 476.5,1197.2 477.0,1197.9 477.5,1198.1 478.0,1198.2 478.5,1198.2 479.0,1198.4 479.5,1198.6 480.0,1198.7 480.5,1198.8 481.0,1198.8 481.5,1198.9 482.0,1199.2 482.5,1199.6 483.0,1199.9 483.5,1200.2 484.0,1200.5 484.5,1200.7 485.0,1200.6 485.5,1200.5 486.0,1200.4 486.5,1200.6 487.0,1200.7 487.5,1200.9 488.0,1200.6 488.5,1200.3 489.0,1200.0 489.5,1200.1 490.0,1200.3 490.5,1200.4 491.0,1200.4 491.5,1200.4 492.0,1200.3 492.5,1200.3 493.0,1200.2 493.5,1200.1 494.0,1200.7 494.5,1201.3 495.0,1201.8 495.5,1201.7 496.0,1201.5 496.5,1201.3 497.0,1201.0 497.5,1200.7 498.0,1200.4 498.5,1200.4 499.0,1200.4 499.5,1200.4 500.0,1200.6 500.5,1200.7 501.0,1200.8 501.5,1200.6 502.0,1200.3 502.5,1200.1 503.0,1200.4 503.5,1200.8 504.0,1201.1 504.5,1200.8 505.0,1200.5 505.5,1200.1 506.0,1200.3 506.5,1200.5 507.0,1200.6 507.5,1200.5 508.0,1200.4 508.5,1200.3 509.0,1200.3 509.5,1200.4 510.0,1200.5 510.5,1200.4 511.0,1200.2 511.5,1200.0 512.0,1199.9 512.5,1199.9 513.0,1199.8 513.5,1199.9 514.0,1200.0 514.5,1200.1 515.0,1200.1 515.5,1200.1 516.0,1200.1 516.5,1200.1 517.0,1200.1 517.5,1200.2 518.0,1200.2 518.5,1200.1 519.0,1200.1 519.5,1200.3 520.0,1200.4 520.5,1200.6 521.0,1200.3 521.5,1200.0 522.0,1199.7 522.5,1199.2 523.0,1198.8 523.5,1198.3 524.0,1198.0 524.5,1197.7 525.0,1197.3 525.5,1196.3 526.0,1195.1 526.5,1193.7 527.0,1192.4 527.5,1190.1 528.0,1185.4 528.5,1175.6 529.0,1159.6 529.5,1139.9 530.0,1124.9 530.3,1122.0 530.5,1123.3 531.0,1136.0 531.5,1155.4 532.0,1172.6 532.5,1183.6 533.0,1189.4 533.5,1192.4 534.0,1194.2 534.5,1194.9 535.0,1195.3 535.5,1195.4 536.0,1196.4 536.5,1197.2 537.0,1198.0 537.5,1198.4 538.0,1198.7 538.5,1199.0 539.0,1199.0 539.5,1198.9 540.0,1198.8 540.5,1199.1 541.0,1199.3 541.5,1199.6 542.0,1199.7 542.5,1199.8 543.0,1199.9 543.5,1200.2 544.0,1200.6 544.5,1200.9 545.0,1200.9 545.5,1200.9 546.0,1200.9 546.5,1201.4 547.0,1201.8 547.5,1202.3 548.0,1201.7 548.5,1201.2 549.0,1200.7 549.5,1201.0 550.0,1201.3 550.5,1201.6 551.0,1201.4 551.5,1201.2 552.0,1201.1 552.5,1201.1 553.0,1201.2 553.5,1201.2 554.0,1201.0 554.5,1200.7 555.0,1200.5 555.5,1200.3 556.0,1200.2 556.5,1200.1 557.0,1200.3 557.5,1200.5 558.0,1200.7 558.5,1201.0 559.0,1201.3 559.5,1201.6 560.0,1201.8 560.5,1201.9 561.0,1202.1 561.5,1201.9 562.0,1201.7 562.5,1201.6 563.0,1201.5 563.5,1201.5 564.0,1201.5 564.5,1201.3 565.0,1201.0 565.5,1200.8 566.0,1201.2 566.5,1201.7 567.0,1202.1 567.5,1202.1 568.0,1202.0 568.5,1202.0 569.0,1201.7 569.5,1201.3 570.0,1201.0 570.5,1201.1 571.0,1201.2 571.5,1201.3 572.0,1201.1 572.5,1200.9 573.0,1200.7 573.5,1201.2 574.0,1201.6 574.5,1202.1 575.0,1201.9 575.5,1201.7 576.0,1201.5 576.5,1201.4 577.0,1201.3 577.5,1201.2 578.0,1201.3 578.5,1201.4 579.0,1201.5 579.5,1201.5 580.0,1201.5 580.5,1201.5 581.0,1201.4 581.5,1201.2 582.0,1201.1 582.5,1200.9 583.0,1200.7 583.5,1200.6 584.0,1200.6 584.5,1200.6 585.0,1200.6 585.5,1200.5 586.0,1200.4 586.5,1200.3 587.0,1200.7 587.5,1201.1 588.0,1201.5 588.5,1201.8 589.0,1202.1 589.5,1202.4 590.0,1201.7 590.5,1200.9 591.0,1200.2 591.5,1200.5 592.0,1200.8 592.5,1201.1 593.0,1201.1 593.5,1201.1 594.0,1201.1 594.5,1200.8 595.0,1200.5 595.5,1200.2 596.0,1200.3 596.5,1200.5 597.0,1200.5 597.5,1200.2 598.0,1199.8 598.5,1199.3 599.0,1199.3 599.5,1199.1 600.0,1198.5 600.5,1196.6 601.0,1193.9 601.5,1190.3 602.0,1186.1 602.5,1181.2 603.0,1176.4 603.5,1172.5 604.0,1170.8 604.1,1170.7 604.5,1171.5 605.0,1174.7 605.5,1179.2 606.0,1184.2 606.5,1188.6 607.0,1192.2 607.5,1194.7 608.0,1196.7 608.5,1198.1 609.0,1199.0 609.5,1199.7 610.0,1200.2 610.5,1200.6 611.0,1200.7 611.5,1200.6 612.0,1200.6 612.5,1200.7 613.0,1200.9 613.5,1201.0 614.0,1200.8 614.5,1200.6 615.0,1200.4 615.5,1200.7 616.0,1200.9 616.5,1201.2 617.0,1201.3 617.5,1201.5 618.0,1201.6 618.5,1201.5 619.0,1201.4 619.5,1201.3 620.0,1201.6 620.5,1202.0 621.0,1202.3 621.5,1201.9 622.0,1201.6 622.5,1201.2 623.0,1201.0 623.5,1200.9 624.0,1200.7 624.5,1200.6 625.0,1200.5 625.5,1200.4 626.0,1200.9 626.5,1201.4 627.0,1201.9 627.5,1201.7 628.0,1201.5 628.5,1201.3 629.0,1201.5 629.5,1201.7 630.0,1201.8 630.5,1201.7 631.0,1201.6 631.5,1201.5 632.0,1201.7 632.5,1201.9 633.0,1202.1 633.5,1202.0 634.0,1201.8 634.5,1201.7 635.0,1201.3 635.5,1200.9 636.0,1200.5 636.5,1200.5 637.0,1200.6 637.4,1200.6 637.5,1200.6 638.0,1200.8 638.5,1201.0 639.0,1201.2 639.5,1200.9 640.0,1200.5 640.5,1200.1 641.0,1200.7 641.5,1201.2 642.0,1201.7 642.5,1201.6 643.0,1201.5 643.5,1201.4 644.0,1201.4 644.5,1201.3 645.0,1201.2 645.5,1200.9 646.0,1200.6 646.5,1200.3 647.0,1200.3 647.5,1200.3 648.0,1200.3 648.5,1199.9 649.0,1199.4 649.5,1199.0 650.0,1199.0 650.5,1199.0 651.0,1198.9 651.5,1198.5 652.0,1198.0 652.5,1197.4 653.0,1197.0 653.5,1196.5 654.0,1195.8 654.5,1194.7 655.0,1193.4 655.5,1191.8 656.0,1190.0 656.5,1187.5 657.0,1183.9 657.5,1177.1 658.0,1162.5 658.5,1135.9 659.0,1102.9 659.5,1083.1 659.6,1082.5 660.0,1092.1 660.5,1122.3 661.0,1153.1 661.5,1172.6 662.0,1181.6 662.5,1185.8 663.0,1188.2 663.5,1190.3 664.0,1191.9 664.5,1193.2 665.0,1194.7 665.5,1195.9 666.0,1197.0 666.5,1197.6 667.0,1198.1 667.5,1198.5 668.0,1198.9 668.5,1199.3 669.0,1199.6 669.5,1199.5 670.0,1199.3 670.5,1199.1 671.0,1199.5 671.5,1199.9 672.0,1200.3 672.5,1200.5 673.0,1200.6 673.5,1200.7 674.0,1201.0 674.5,1201.3 675.0,1201.5 675.5,1201.3 676.0,1201.2 676.5,1201.0 677.0,1201.1 677.5,1201.3 678.0,1201.4 678.5,1201.2 679.0,1200.9 679.5,1200.7 680.0,1200.9 680.5,1201.0 681.0,1201.2 681.5,1201.2 682.0,1201.1 682.5,1201.1 683.0,1201.3 683.5,1201.6 684.0,1201.8 684.5,1201.5 685.0,1201.2 685.5,1200.9 686.0,1200.9 686.5,1201.0 687.0,1201.0 687.5,1201.3 688.0,1201.5 688.5,1201.8 689.0,1202.0 689.5,1202.2 690.0,1202.4 690.5,1202.2 691.0,1201.9 691.5,1201.7 692.0,1201.6 692.5,1201.6 693.0,1201.6 693.5,1201.5 694.0,1201.3 694.5,1201.2 695.0,1201.4 695.5,1201.7 696.0,1201.9 696.5,1201.7 697.0,1201.6 697.5,1201.4 698.0,1201.5 698.5,1201.6 699.0,1201.7 699.5,1201.1 700.0,1200.4 700.5,1199.5 701.0,1198.3 701.5,1196.7 702.0,1194.6 702.5,1192.4 703.0,1189.7 703.5,1187.1 704.0,1184.7 704.5,1183.1 704.9,1182.7 705.0,1182.7 705.5,1183.6 706.0,1185.5 706.5,1188.0 707.0,1190.9 707.5,1193.8 708.0,1196.3 708.5,1198.0 709.0,1199.3 709.5,1200.1 710.0,1200.4 710.5,1200.4 711.0,1200.3 711.5,1200.9 712.0,1201.6 712.5,1202.2 713.0,1202.0 713.5,1201.8 714.0,1201.6 714.5,1201.4 715.0,1201.2 715.5,1201.0 716.0,1201.3 716.5,1201.5 717.0,1201.8 717.5,1201.7 718.0,1201.6 718.5,1201.5 719.0,1201.4 719.5,1201.3 720.0,1201.1 720.5,1200.9 721.0,1200.6 721.5,1200.3 722.0,1200.5 722.5,1200.6 723.0,1200.6 723.5,1200.2 724.0,1199.7 724.5,1199.1 725.0,1197.9 725.5,1196.7 726.0,1195.7 726.5,1196.0 726.7,1196.2 727.0,1196.6 727.5,1197.5 728.0,1198.1 728.5,1198.8 729.0,1199.5 729.5,1199.9 730.0,1200.2 730.5,1200.5 731.0,1200.9 731.5,1201.3 732.0,1201.5 732.5,1201.6 733.0,1201.6 733.5,1201.6 734.0,1201.5 734.5,1201.4 735.0,1201.3 735.5,1201.4 736.0,1201.5 736.5,1201.6 737.0,1201.9 737.5,1202.3 738.0,1202.6 738.5,1202.1 739.0,1201.6 739.5,1201.1 740.0,1201.4 740.5,1201.7 741.0,1202.0 741.5,1202.0 742.0,1202.0 742.5,1201.9 743.0,1201.8 743.5,1201.6 744.0,1201.4 744.5,1201.5 745.0,1201.5 745.5,1201.6 746.0,1201.4 746.5,1201.2 747.0,1201.0 747.5,1201.0 748.0,1201.1 748.5,1201.2 749.0,1201.2 749.5,1201.3 750.0,1201.3 750.5,1201.1 751.0,1200.8 751.5,1200.4 752.0,1199.4 752.5,1198.2 753.0,1196.7 753.5,1195.9 754.0,1194.9 754.5,1194.0 755.0,1191.9 755.5,1190.3 755.9,1189.5 756.0,1189.4 756.5,1190.1 757.0,1191.4 757.5,1193.0 758.0,1194.7 758.5,1196.2 759.0,1197.6 759.5,1198.7 760.0,1199.6 760.5,1200.2 761.0,1201.0 761.5,1201.6 762.0,1202.1 762.5,1201.9 763.0,1201.7 763.5,1201.4 764.0,1201.8 764.5,1202.2 765.0,1202.5 765.5,1202.5 766.0,1202.5 766.5,1202.5 767.0,1202.1 767.5,1201.7 768.0,1201.3 768.5,1201.7 769.0,1202.1 769.5,1202.5 770.0,1202.2 770.5,1201.9 771.0,1201.6 771.5,1202.2 772.0,1202.8 772.5,1203.4 773.0,1202.8 773.5,1202.2 774.0,1201.6 774.5,1201.4 775.0,1201.3 775.5,1201.0 776.0,1200.7 776.5,1200.2 777.0,1199.6 777.5,1199.2 778.0,1198.5 778.5,1197.8 779.0,1196.9 779.5,1196.1 780.0,1195.3 780.5,1194.6 781.0,1194.3 781.5,1194.5 782.0,1195.1 782.5,1195.9 783.0,1196.9 783.5,1197.9 784.0,1198.9 784.5,1199.7 785.0,1200.4 785.5,1200.9 786.0,1201.3 786.5,1201.8 787.0,1202.2 787.5,1202.6 788.0,1202.1 788.5,1201.6 789.0,1201.0 789.5,1201.2 790.0,1201.5 790.5,1201.7 791.0,1201.6 791.5,1201.6 792.0,1201.5 792.5,1201.4 793.0,1201.3 793.5,1201.2 794.0,1201.2 794.5,1201.2 795.0,1201.2 795.5,1201.1 796.0,1201.1 796.5,1200.9 797.0,1201.0 797.5,1200.9 798.0,1200.8 798.5,1200.2 799.0,1199.6 799.5,1199.1 800.0,1198.9 800.3,1198.8 800.5,1198.8 801.0,1198.9 801.5,1199.4 802.0,1200.1 802.5,1200.7 803.0,1201.0 803.5,1201.3 804.0,1201.6 804.5,1201.7 805.0,1201.7 805.5,1201.8 806.0,1201.9 806.5,1202.0 807.0,1202.1 807.5,1201.9 808.0,1201.6 808.5,1201.2 809.0,1201.2 809.5,1201.1 810.0,1201.0 810.5,1200.4 811.0,1199.7 811.5,1199.1 812.0,1198.3 812.5,1197.7 813.0,1197.4 813.1,1197.3 813.5,1197.3 814.0,1197.5 814.5,1198.0 815.0,1199.1 815.5,1200.2 816.0,1201.3 816.5,1201.6 817.0,1201.7 817.5,1201.7 818.0,1202.5 818.5,1203.2 819.0,1203.8 819.5,1203.2 820.0,1202.5 820.5,1201.9 821.0,1202.2 821.5,1202.5 822.0,1202.7 822.5,1202.4 823.0,1202.1 823.5,1201.8 824.0,1201.8 824.5,1201.7 825.0,1201.5 825.5,1201.2 826.0,1200.9 826.5,1200.6 827.0,1199.9 827.5,1199.3 828.0,1198.9 828.1,1198.9 828.5,1199.1 829.0,1199.4 829.5,1200.0 830.0,1200.5 830.5,1200.9 831.0,1201.4 831.5,1201.7 832.0,1202.0 832.5,1202.2 833.0,1202.4 833.5,1202.6 834.0,1202.8 834.5,1202.9 835.0,1203.0 835.5,1203.1 836.0,1203.1 836.5,1203.1 837.0,1203.1 837.5,1203.0 838.0,1202.9 838.5,1202.8 839.0,1202.7 839.5,1202.6 840.0,1202.5 840.5,1202.4 841.0,1202.2 841.5,1202.1 842.0,1202.2 842.5,1202.3 843.0,1202.4 843.5,1202.4 844.0,1202.5 844.5,1202.5 845.0,1202.7 845.5,1203.0 846.0,1203.2 846.5,1203.0 847.0,1202.8 847.5,1202.6 848.0,1202.5 848.5,1202.3 849.0,1202.2 849.5,1202.5 850.0,1202.9 850.5,1203.2 851.0,1203.0 851.5,1202.7 852.0,1202.5 852.5,1202.5 853.0,1202.5 853.5,1202.5 854.0,1202.6 854.5,1202.7 855.0,1202.8 855.5,1202.9 856.0,1203.1 856.5,1203.2 857.0,1202.7 857.5,1202.2 858.0,1201.6 858.5,1201.9 859.0,1202.1 859.5,1202.4 860.0,1202.6 860.5,1202.9 861.0,1203.1 861.5,1203.0 862.0,1202.9 862.5,1202.8 863.0,1202.7 863.5,1202.7 864.0,1202.6 864.5,1202.6 865.0,1202.7 865.5,1202.8 866.0,1203.1 866.5,1203.5 867.0,1203.8 867.5,1203.5 868.0,1203.2 868.5,1202.8 869.0,1203.0 869.5,1203.3 870.0,1203.5 870.5,1203.5 871.0,1203.5 871.5,1203.5 872.0,1203.3 872.5,1203.1 873.0,1202.8 873.5,1203.0 874.0,1203.2 874.5,1203.3 875.0,1203.2 875.5,1203.0 876.0,1202.8 876.5,1202.8 877.0,1202.8 877.5,1202.8 878.0,1202.7 878.5,1202.6 879.0,1202.5 879.5,1202.8 880.0,1203.2 880.5,1203.6 881.0,1203.3 881.5,1203.1 882.0,1202.9 882.5,1202.9 883.0,1202.8 883.5,1202.8 884.0,1202.7 884.5,1202.6 885.0,1202.5 885.5,1203.0 886.0,1203.6 886.5,1204.1 887.0,1203.9 887.5,1203.7 888.0,1203.5 888.5,1203.4 889.0,1203.2 889.5,1203.0 890.0,1202.9 890.5,1202.8 891.0,1202.7 891.5,1202.6 892.0,1202.4 892.5,1202.3 893.0,1202.6 893.5,1202.9 894.0,1203.3 894.5,1203.3 895.0,1203.3 895.5,1203.3 896.0,1203.0 896.5,1202.7 897.0,1202.3 897.5,1202.8 898.0,1203.3 898.5,1203.8 899.0,1203.7 899.5,1203.6 900.0,1203.5 900.5,1203.2 901.0,1202.9 901.5,1202.6 902.0,1202.7 902.5,1202.7 903.0,1202.8 903.5,1202.8 904.0,1202.8 904.5,1202.9 905.0,1203.0 905.5,1203.1 906.0,1203.2 906.5,1203.1 907.0,1203.0 907.5,1203.0 908.0,1202.7 908.5,1202.4 909.0,1202.1 909.5,1202.7 910.0,1203.3 910.5,1203.8 911.0,1203.6 911.5,1203.3 912.0,1203.1 912.5,1203.2 913.0,1203.4 913.5,1203.5 914.0,1203.4 914.5,1203.2 915.0,1202.9 915.5,1202.3 916.0,1201.5 916.5,1200.5 917.0,1199.7 917.5,1198.7 918.0,1197.6 918.5,1196.4 919.0,1195.4 919.5,1194.7 920.0,1194.4 920.5,1194.7 921.0,1195.5 921.5,1196.4 922.0,1197.5 922.5,1198.6 923.0,1199.6 923.5,1200.4 924.0,1201.0 924.5,1201.7 925.0,1202.2 925.5,1202.5 926.0,1202.6 926.5,1202.5 927.0,1202.4 927.5,1202.5 928.0,1202.6 928.5,1202.7 929.0,1202.4 929.5,1202.2 930.0,1201.9 930.5,1202.3 931.0,1202.7 931.5,1203.1 932.0,1202.9 932.5,1202.8 933.0,1202.6 933.5,1202.6 934.0,1202.7 934.5,1202.8 935.0,1202.9 935.5,1203.0 936.0,1203.1 936.5,1203.2 937.0,1203.3 937.5,1203.3 938.0,1203.6 938.5,1203.9 939.0,1204.2 939.5,1203.9 940.0,1203.6 940.5,1203.3 941.0,1203.0 941.5,1202.7 942.0,1202.4 942.5,1202.7 943.0,1203.0 943.5,1203.3 944.0,1203.1 944.5,1203.0 945.0,1202.9 945.5,1203.1 946.0,1203.2 946.5,1203.4 947.0,1203.2 947.5,1203.0 948.0,1202.8 948.5,1202.8 949.0,1202.8 949.5,1202.8 950.0,1202.9 950.5,1202.9 951.0,1202.9 951.5,1202.9 952.0,1202.9 952.5,1202.9 953.0,1202.7 953.5,1202.4 954.0,1202.2 954.5,1202.4 955.0,1202.6 955.5,1202.9 956.0,1203.0 956.5,1203.1 957.0,1203.2 957.5,1203.4 958.0,1203.7 958.5,1203.9 959.0,1203.6 959.5,1203.3 960.0,1203.1 960.5,1203.0 961.0,1203.0 961.5,1203.0 962.0,1203.2 962.5,1203.3 963.0,1203.5 963.5,1203.5 964.0,1203.5 964.5,1203.5 965.0,1203.7 965.5,1203.9 966.0,1204.1 966.5,1203.9 967.0,1203.7 967.5,1203.5 968.0,1203.4 968.5,1203.2 969.0,1203.1 969.5,1203.3 970.0,1203.6 970.5,1203.8 971.0,1203.8 971.5,1203.8 972.0,1203.8 972.5,1203.5 973.0,1203.0 973.5,1202.6 974.0,1202.7 974.5,1202.8 975.0,1202.8 975.5,1202.4 976.0,1201.9 976.5,1201.3 977.0,1201.2 977.5,1200.9 978.0,1200.3 978.5,1198.9 979.0,1197.2 979.5,1195.2 980.0,1193.5 980.5,1192.3 981.0,1191.9 981.5,1192.3 982.0,1193.5 982.5,1195.2 983.0,1197.1 983.5,1198.6 984.0,1199.8 984.5,1200.3 985.0,1200.4 985.5,1200.0 986.0,1199.3 986.5,1198.1 987.0,1196.7 987.5,1195.2 988.0,1194.1 988.5,1193.6 989.0,1193.9 989.5,1195.0 990.0,1196.4 990.5,1197.9 991.0,1199.2 991.5,1200.1 992.0,1201.4 992.5,1202.3 993.0,1203.1 993.5,1203.3 994.0,1203.5 994.5,1203.6 995.0,1203.3 995.5,1203.0 996.0,1202.7 996.5,1203.0 997.0,1203.2 997.5,1203.4 998.0,1203.0 998.5,1202.7 999.0,1202.3 999.5,1202.3 1000.0,1202.3 1000.5,1202.3 1001.0,1202.6 1001.5,1202.8 1002.0,1203.1 1002.5,1203.4 1003.0,1203.7 1003.5,1204.1 1004.0,1203.6 1004.5,1203.1 1005.0,1202.7 1005.5,1202.7 1006.0,1202.8 1006.5,1202.8 1007.0,1203.3 1007.5,1203.7 1008.0,1204.2 1008.5,1203.5 1009.0,1202.9 1009.5,1202.2 1010.0,1202.7 1010.5,1203.2 1011.0,1203.6 1011.5,1203.6 1012.0,1203.6 1012.5,1203.6 1013.0,1203.4 1013.5,1203.3 1014.0,1203.2 1014.5,1203.2 1015.0,1203.3 1015.5,1203.4 1016.0,1203.8 1016.5,1204.3 1017.0,1204.7 1017.5,1204.0 1018.0,1203.3 1018.5,1202.6 1019.0,1202.8 1019.5,1202.9 1020.0,1203.0 1020.5,1203.0 1021.0,1203.0 1021.5,1203.0 1022.0,1202.9 1022.5,1202.7 1023.0,1202.5 1023.5,1202.2 1024.0,1201.9 1024.5,1201.4 1025.0,1201.4 1025.5,1201.3 1026.0,1200.9 1026.5,1199.7 1027.0,1198.3 1027.5,1196.9 1028.0,1195.6 1028.5,1194.6 1028.9,1194.1 1029.0,1194.0 1029.5,1194.6 1030.0,1195.6 1030.5,1196.8 1031.0,1198.2 1031.5,1199.5 1032.0,1200.7 1032.5,1201.5 1033.0,1202.1 1033.5,1202.5 1034.0,1202.5 1034.5,1202.4 1035.0,1202.2 1035.5,1202.5 1036.0,1202.8 1036.5,1203.1 1037.0,1203.2 1037.5,1203.3 1038.0,1203.4 1038.5,1203.4 1039.0,1203.5 1039.5,1203.5 1040.0,1203.5 1040.5,1203.5 1041.0,1203.6 1041.5,1203.2 1042.0,1202.8 1042.5,1202.4 1043.0,1203.0 1043.5,1203.7 1044.0,1204.4 1044.5,1204.1 1045.0,1203.8 1045.5,1203.5 1046.0,1203.8 1046.5,1204.1 1047.0,1204.4 1047.5,1204.6 1048.0,1204.8 1048.5,1205.0 1049.0,1204.4 1049.5,1203.9 1050.0,1203.3 1050.5,1203.1 1051.0,1202.9 1051.5,1202.8 1052.0,1203.1 1052.5,1203.5 1053.0,1203.9 1053.5,1203.7 1054.0,1203.5 1054.5,1203.4 1055.0,1203.3 1055.5,1203.3 1056.0,1203.2 1056.5,1203.1 1057.0,1203.0 1057.5,1202.9 1058.0,1203.4 1058.5,1203.9 1059.0,1204.4 1059.5,1204.0 1060.0,1203.6 1060.5,1203.2 1061.0,1203.1 1061.5,1202.9 1062.0,1202.7 1062.5,1202.9 1063.0,1203.1 1063.5,1203.2 1064.0,1203.1 1064.5,1203.0 1065.0,1202.8 1065.5,1203.1 1066.0,1203.3 1066.5,1203.6 1067.0,1203.5 1067.5,1203.3 1068.0,1203.2 1068.5,1203.1 1069.0,1203.0 1069.5,1202.9 1070.0,1203.1 1070.5,1203.4 1071.0,1203.7 1071.5,1203.5 1072.0,1203.2 1072.5,1203.0 1073.0,1203.2 1073.5,1203.4 1074.0,1203.6 1074.5,1203.6 1075.0,1203.6 1075.5,1203.6 1076.0,1203.0 1076.5,1202.3 1077.0,1201.5 1077.5,1200.6 1078.0,1199.5 1078.5,1198.0 1079.0,1196.5 1079.5,1194.8 1080.0,1193.1 1080.5,1191.7 1081.0,1190.7 1081.4,1190.6 1081.5,1190.6 1082.0,1191.0 1082.5,1192.2 1083.0,1193.8 1083.5,1195.7 1084.0,1197.5 1084.5,1199.1 1085.0,1200.3 1085.5,1201.3 1086.0,1202.0 1086.5,1202.5 1087.0,1202.9 1087.5,1203.1 1088.0,1203.3 1088.5,1203.5 1089.0,1203.6 1089.5,1203.4 1090.0,1203.1 1090.5,1202.8 1091.0,1202.8 1091.5,1202.7 1092.0,1202.6 1092.5,1202.5 1093.0,1202.3 1093.5,1202.2 1094.0,1201.8 1094.5,1201.4 1095.0,1201.2 1095.3,1201.2 1095.5,1201.3 1096.0,1201.6 1096.5,1202.0 1097.0,1202.3 1097.5,1202.7 1098.0,1203.1 1098.5,1203.2 1099.0,1203.3 1099.5,1203.4 1100.0,1203.4 1100.5,1203.3 1101.0,1203.3 1101.5,1203.3 1102.0,1203.3 1102.5,1203.3 1103.0,1203.8 1103.5,1204.2 1104.0,1204.7 1104.5,1204.6 1105.0,1204.4 1105.5,1204.3 1106.0,1203.9 1106.5,1203.5 1107.0,1203.2 1107.5,1203.2 1108.0,1203.3 1108.5,1203.4 1109.0,1203.9 1109.5,1204.4 1110.0,1204.9 1110.5,1204.8 1111.0,1204.7 1111.5,1204.7 1112.0,1204.4 1112.5,1204.2 1113.0,1203.9 1113.5,1204.1 1114.0,1204.3 1114.5,1204.5 1115.0,1204.0 1115.5,1203.5 1116.0,1203.1 1116.5,1203.3 1117.0,1203.6 1117.5,1203.9 1118.0,1204.0 1118.5,1204.2 1119.0,1204.3 1119.5,1203.8 1120.0,1203.3 1120.5,1202.9 1121.0,1203.1 1121.5,1203.3 1122.0,1203.4 1122.5,1203.7 1123.0,1204.0 1123.5,1204.3 1124.0,1204.4 1124.5,1204.4 1125.0,1204.5 1125.5,1204.1 1126.0,1203.8 1126.5,1203.5 1127.0,1203.6 1127.5,1203.8 1128.0,1203.9 1128.5,1204.1 1129.0,1204.4 1129.5,1204.6 1130.0,1204.1 1130.5,1203.7 1131.0,1203.2 1131.5,1202.9 1132.0,1202.5 1132.5,1202.0 1133.0,1201.7 1133.5,1201.2 1134.0,1200.4 1134.5,1199.0 1135.0,1197.4 1135.5,1195.7 1136.0,1194.3 1136.5,1193.2 1137.0,1192.6 1137.4,1192.1 1137.5,1192.1 1138.0,1192.4 1138.5,1193.4 1139.0,1194.8 1139.5,1196.3 1140.0,1197.7 1140.5,1199.7 1141.0,1201.5 1141.5,1202.9 1142.0,1202.9 1142.5,1202.7 1143.0,1202.3 1143.5,1202.5 1144.0,1202.5 1144.5,1202.5 1145.0,1202.2 1145.5,1202.0 1146.0,1201.9 1146.5,1201.9 1147.0,1202.0 1147.5,1202.2 1148.0,1202.4 1148.5,1202.6 1149.0,1202.8 1149.5,1203.2 1150.0,1203.5 1150.5,1203.7 1151.0,1203.7 1151.5,1203.6 1152.0,1203.6 1152.5,1203.3 1153.0,1203.0 1153.5,1202.7 1154.0,1202.8 1154.5,1202.8 1155.0,1202.7 1155.5,1202.2 1156.0,1201.5 1156.5,1200.5 1157.0,1199.1 1157.5,1197.5 1158.0,1195.8 1158.5,1194.0 1159.0,1192.4 1159.5,1191.3 1160.0,1190.7 1160.5,1191.0 1161.0,1192.1 1161.5,1194.1 1162.0,1196.3 1162.5,1198.5 1163.0,1200.1 1163.5,1201.5 1164.0,1202.6 1164.5,1202.6 1165.0,1202.5 1165.5,1202.1 1166.0,1202.8 1166.5,1203.3 1167.0,1203.8 1167.5,1203.8 1168.0,1203.7 1168.5,1203.6 1169.0,1203.3 1169.5,1203.0 1170.0,1202.7 1170.5,1203.2 1171.0,1203.8 1171.5,1204.4 1172.0,1204.2 1172.5,1204.1 1173.0,1203.9 1173.5,1203.9 1174.0,1204.0 1174.5,1204.1 1175.0,1204.0 1175.5,1204.0 1176.0,1203.9 1176.5,1204.3 1177.0,1204.6 1177.5,1204.9 1178.0,1205.0 1178.5,1205.0 1179.0,1205.0 1179.5,1204.9 1180.0,1204.7 1180.5,1204.5 1181.0,1204.6 1181.5,1204.7 1182.0,1204.8 1182.5,1204.6 1183.0,1204.5 1183.5,1204.3 1184.0,1204.4 1184.5,1204.5 1185.0,1204.5 1185.5,1204.3 1186.0,1204.2 1186.5,1204.0 1187.0,1204.2 1187.5,1204.3 1188.0,1204.5 1188.5,1204.3 1189.0,1204.2 1189.5,1204.1 1190.0,1204.3 1190.5,1204.5 1191.0,1204.7 1191.5,1204.8 1192.0,1204.9 1192.5,1205.0 1193.0,1204.9 1193.5,1204.8 1194.0,1204.7 1194.5,1204.8 1195.0,1205.0 1195.5,1205.2 1196.0,1205.5 1196.5,1205.7 1197.0,1206.0 1197.5,1205.1 1198.0,1204.3 1198.5,1203.4 1199.0,1203.8 1199.5,1204.2 1200.0,1204.6 1200.5,1204.5 1201.0,1204.4 1201.5,1204.3 1202.0,1204.3 1202.5,1204.3 1203.0,1204.3 1203.5,1204.2 1204.0,1204.0 1204.5,1203.8 1205.0,1204.1 1205.5,1204.4 1206.0,1204.6 1206.5,1204.6 1207.0,1204.5 1207.5,1204.4 1208.0,1204.4 1208.5,1204.3 1209.0,1204.2 1209.5,1204.3 1210.0,1204.4 1210.5,1204.5 1211.0,1204.4 1211.5,1204.3 1212.0,1204.3 1212.5,1204.0 1213.0,1203.6 1213.5,1203.3 1214.0,1203.9 1214.5,1204.6 1215.0,1205.2 1215.5,1205.0 1216.0,1204.7 1216.5,1204.4 1217.0,1204.3 1217.5,1204.2 1218.0,1204.1 1218.5,1204.3 1219.0,1204.6 1219.5,1204.8 1220.0,1204.6 1220.5,1204.4 1221.0,1204.3 1221.5,1204.0 1222.0,1203.7 1222.5,1203.4 1223.0,1204.0 1223.5,1204.6 1224.0,1205.1 1224.5,1204.6 1225.0,1204.2 1225.5,1203.7 1226.0,1204.0 1226.5,1204.2 1227.0,1204.5 1227.5,1204.6 1228.0,1204.6 1228.5,1204.7 1229.0,1204.9 1229.5,1205.1 1230.0,1205.4 1230.5,1205.3 1231.0,1205.3 1231.5,1205.3 1232.0,1205.1 1232.5,1204.9 1233.0,1204.7 1233.5,1204.5 1234.0,1204.4 1234.5,1204.2 1235.0,1204.3 1235.5,1204.3 1236.0,1204.4 1236.5,1204.6 1237.0,1204.9 1237.5,1205.2 1238.0,1205.3 1238.5,1205.4 1239.0,1205.5 1239.5,1205.3 1240.0,1205.0 1240.5,1204.7 1241.0,1204.4 1241.5,1204.0 1242.0,1203.5 1242.5,1203.6 1243.0,1203.5 1243.5,1203.3 1244.0,1202.6 1244.5,1201.8 1245.0,1201.1 1245.5,1200.9 1245.9,1200.8 1246.0,1200.8 1246.5,1200.9 1247.0,1201.3 1247.5,1201.8 1248.0,1202.3 1248.5,1203.0 1249.0,1203.6 1249.5,1204.1 1250.0,1204.3 1250.5,1204.4 1251.0,1204.5 1251.5,1204.7 1252.0,1204.9 1252.5,1205.1 1253.0,1205.2 1253.5,1205.3 1254.0,1205.3 1254.5,1205.2 1255.0,1205.1 1255.5,1204.9 1256.0,1204.4 1256.5,1203.9 1257.0,1203.4 1257.5,1203.5 1258.0,1203.6 1258.5,1203.7 1259.0,1204.1 1259.5,1204.4 1260.0,1204.8 1260.5,1204.7 1261.0,1204.7 1261.5,1204.6 1262.0,1205.1 1262.5,1205.5 1263.0,1205.9 1263.5,1205.5 1264.0,1205.1 1264.5,1204.7 1265.0,1204.6 1265.5,1204.6 1266.0,1204.6 1266.5,1204.8 1267.0,1205.0 1267.5,1205.2 1268.0,1205.2 1268.5,1205.2 1269.0,1205.2 1269.5,1205.0 1270.0,1204.8 1270.5,1204.5 1271.0,1204.6 1271.5,1204.7 1272.0,1204.9 1272.5,1204.6 1273.0,1204.2 1273.5,1203.9 1274.0,1203.9 1274.5,1203.9 1275.0,1203.9 1275.5,1204.3 1276.0,1204.6 1276.5,1204.8 1277.0,1204.1 1277.5,1203.3 1278.0,1202.3 1278.5,1202.1 1279.0,1201.6 1279.5,1200.9 1280.0,1199.6 1280.5,1198.3 1281.0,1197.0 1281.5,1196.0 1282.0,1195.5 1282.2,1195.4 1282.5,1195.5 1283.0,1196.2 1283.5,1197.3 1284.0,1198.6 1284.5,1199.9 1285.0,1201.1 1285.5,1202.1 1286.0,1202.4 1286.5,1202.5 1287.0,1202.5 1287.5,1203.0 1288.0,1203.4 1288.5,1203.8 1289.0,1204.0 1289.5,1204.1 1290.0,1204.2 1290.5,1204.5 1291.0,1204.8 1291.5,1205.1 1292.0,1204.8 1292.5,1204.4 1293.0,1204.1 1293.5,1204.2 1294.0,1204.2 1294.5,1204.3 1295.0,1204.4 1295.5,1204.5 1296.0,1204.5 1296.5,1204.9 1297.0,1205.2 1297.5,1205.5 1298.0,1205.0 1298.5,1204.5 1299.0,1204.0 1299.5,1204.0 1300.0,1204.0 1300.5,1204.1 1301.0,1204.4 1301.5,1204.8 1302.0,1205.2 1302.5,1204.7 1303.0,1204.2 1303.5,1203.7 1304.0,1204.1 1304.5,1204.6 1305.0,1205.0 1305.5,1204.9 1306.0,1204.7 1306.5,1204.6 1307.0,1204.4 1307.5,1204.2 1308.0,1204.0 1308.5,1204.2 1309.0,1204.4 1309.5,1204.6 1310.0,1204.5 1310.5,1204.4 1311.0,1204.3 1311.5,1204.5 1312.0,1204.7 1312.5,1205.0 1313.0,1205.0 1313.5,1205.0 1314.0,1205.1 1314.5,1205.3 1315.0,1205.5 1315.5,1205.7 1316.0,1205.4 1316.5,1205.2 1317.0,1204.9 1317.5,1204.9 1318.0,1204.9 1318.5,1204.9 1319.0,1204.8 1319.5,1204.7 1320.0,1204.6 1320.5,1204.7 1321.0,1204.8 1321.5,1204.9 1322.0,1205.1 1322.5,1205.3 1323.0,1205.5 1323.5,1204.9 1324.0,1204.4 1324.5,1203.9 1325.0,1204.3 1325.5,1204.8 1326.0,1205.3 1326.5,1205.1 1327.0,1204.8 1327.5,1204.6 1328.0,1204.7 1328.5,1204.9 1329.0,1205.0 1329.5,1205.0 1330.0,1205.1 1330.5,1205.1 1331.0,1205.2 1331.5,1205.3 1332.0,1205.4 1332.5,1205.3 1333.0,1205.2 1333.5,1205.1 1334.0,1205.0 1334.5,1204.8 1335.0,1204.7 1335.5,1204.9 1336.0,1205.0 1336.5,1205.1 1337.0,1205.1 1337.5,1205.0 1338.0,1205.0 1338.5,1204.9 1339.0,1204.9 1339.5,1204.8 1340.0,1204.9 1340.5,1205.0 1341.0,1205.1 1341.5,1205.2 1342.0,1205.3 1342.5,1205.4 1343.0,1205.3 1343.5,1205.2 1344.0,1205.0 1344.5,1205.0 1345.0,1205.1 1345.5,1205.1 1346.0,1204.8 1346.5,1204.5 1347.0,1204.3 1347.5,1204.5 1348.0,1204.7 1348.5,1204.9 1349.0,1204.6 1349.5,1204.3 1350.0,1204.0 1350.5,1204.4 1351.0,1204.9 1351.5,1205.4 1352.0,1205.1 1352.5,1204.5 1353.0,1204.5" fill="none" stroke="#ff0000" stroke-width="7" stroke-linejoin="round" stroke-linecap="butt"/>
</g>
<g font-family="Liberation Serif, Times New Roman, serif" font-weight="bold" fill="#000">
<text x="462.7" y="326.0" font-size="50.0">2</text>
<text x="543.1" y="376.7" font-size="50.0">9</text>
<text x="593.5" y="81.0" font-size="50.0">2</text>
<text x="622.8" y="347.7" font-size="50.0">6</text>
<text x="655.0" y="353.7" font-size="50.0">7</text>
<text x="742.4" y="383.1" font-size="50.0">9</text>
<text x="816.2" y="358.5" font-size="50.0">2</text>
<text x="884.6" y="359.3" font-size="50.0">2</text>
<text x="949.6" y="367.0" font-size="50.0">2</text>
<text x="1026.9" y="375.0" font-size="50.0">2</text>
<text x="1123.6" y="357.5" font-size="50.0">2</text>
<text x="255.1" y="729.8" font-size="50.0">8</text>
<text x="328.0" y="770.0" font-size="50.0">4</text>
<text x="460.3" y="741.4" font-size="50.0">1</text>
<text x="509.4" y="736.6" font-size="50.0">3</text>
<text x="591.4" y="649.4" font-size="50.0">2</text>
<text x="654.0" y="484.0" font-size="50.0">4</text>
<text x="703.5" y="489.0" font-size="46.5">34</text>
<text x="732.0" y="528.9" font-size="46.5">34</text>
<text x="778.7" y="518.0" font-size="46.5">34</text>
<text x="690.5" y="700.9" font-size="50.0">3</text>
<text x="750.2" y="684.5" font-size="50.0">5</text>
<text x="824.5" y="716.0" font-size="50.0">3</text>
<text x="868.6" y="695.7" font-size="50.0">3</text>
<text x="910.7" y="620.3" font-size="46.5">34</text>
<text x="1159.1" y="654.8" font-size="50.0">4</text>
<text x="1267.2" y="704.9" font-size="50.0">3</text>
<text x="255.0" y="890.0" font-size="50.0">1</text>
<text x="460.1" y="1119.2" font-size="50.0">1</text>
<text x="518.9" y="1111.4" font-size="50.0">1</text>
<text x="592.9" y="1157.7" font-size="50.0">2</text>
<text x="648.3" y="1072.0" font-size="50.0">1</text>
<text x="691.9" y="1172.0" font-size="50.0">1</text>
<text x="742.9" y="1179.5" font-size="50.0">1</text>
<text x="974.2" y="1180.4" font-size="50.0">1</text>
<text x="1073.2" y="1177.1" font-size="50.0">1</text>
<text x="1150.1" y="1175.4" font-size="50.0">1</text>
<text x="126.9" y="95.9" font-size="50.5">RS</text>
<text x="123.4" y="500.8" font-size="51.5">OPC</text>
<text x="126.0" y="905.7" font-size="51">PG</text>
<text x="115.0" y="1334.5" font-size="54" text-anchor="middle">5</text>
<text x="227.7" y="1334.5" font-size="54" text-anchor="middle">10</text>
<text x="340.4" y="1334.5" font-size="54" text-anchor="middle">15</text>
<text x="453.0" y="1334.5" font-size="54" text-anchor="middle">20</text>
<text x="565.7" y="1334.5" font-size="54" text-anchor="middle">25</text>
<text x="678.4" y="1334.5" font-size="54" text-anchor="middle">30</text>
<text x="791.1" y="1334.5" font-size="54" text-anchor="middle">35</text>
<text x="903.8" y="1334.5" font-size="54" text-anchor="middle">40</text>
<text x="1016.4" y="1334.5" font-size="54" text-anchor="middle">45</text>
<text x="1129.1" y="1334.5" font-size="54" text-anchor="middle">50</text>
<text x="1241.8" y="1334.5" font-size="54" text-anchor="middle">55</text>
<text x="1354.5" y="1334.5" font-size="54" text-anchor="middle">60</text>
</g>
<text x="678.3" y="1412.9" font-family="Liberation Serif, serif" font-size="58" transform="translate(-2.4,0)"><tspan font-weight="bold">2θ</tspan> (°)</text>
<text transform="translate(67.1,835) rotate(-90)" x="0" y="0" font-family="Liberation Serif, serif" font-weight="bold" font-size="57.5">Intensity (a.u.)</text>
</svg>
</body></html>
